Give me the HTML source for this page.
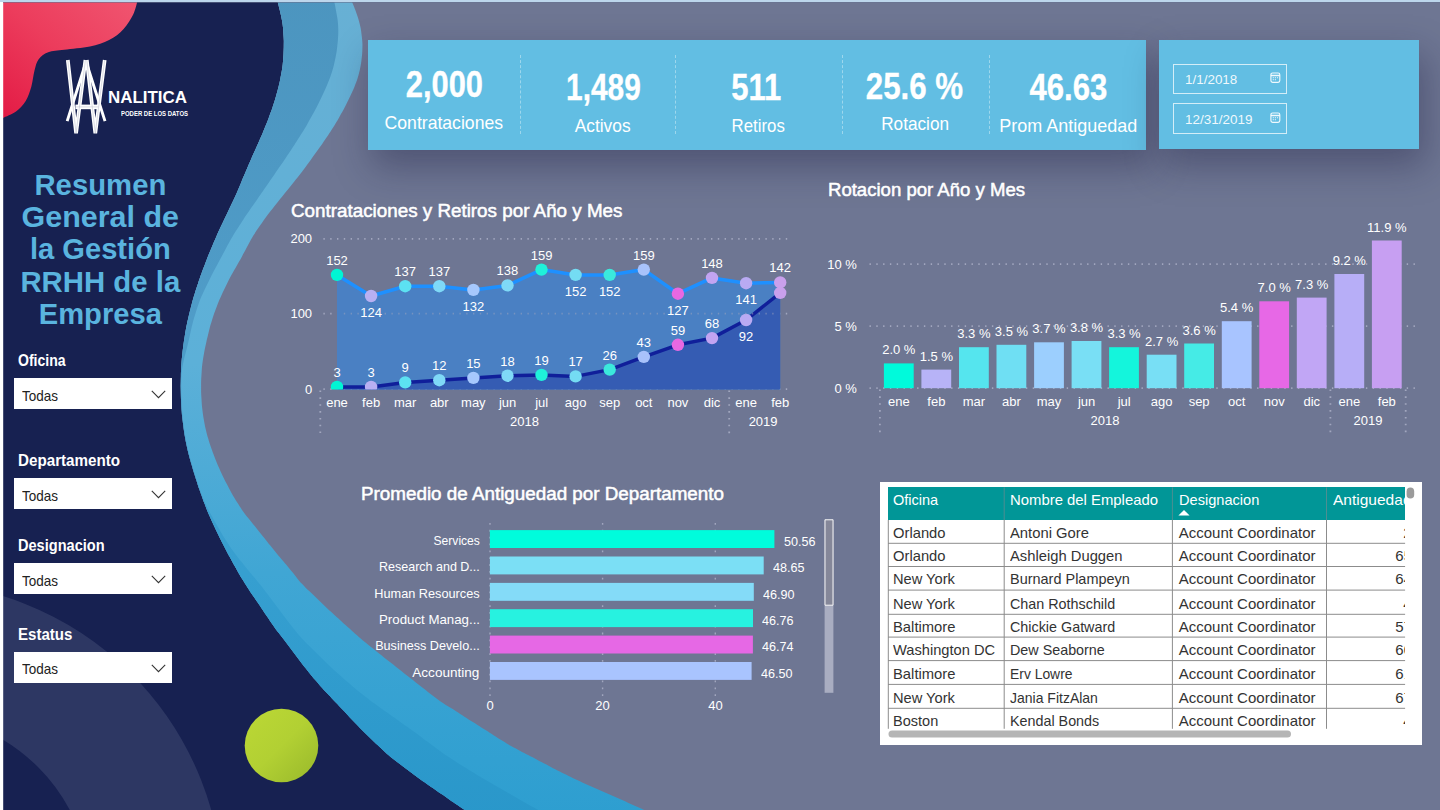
<!DOCTYPE html>
<html lang="es"><head><meta charset="utf-8"><title>Resumen General de la Gestión RRHH</title>
<style>
html,body{margin:0;padding:0}
body{width:1440px;height:810px;overflow:hidden;position:relative;background:#6e7693;font-family:"Liberation Sans",sans-serif}
.t{position:absolute;white-space:nowrap;line-height:1;display:block}
svg{position:absolute;left:0;top:0;overflow:visible}
.card{position:absolute;background:#62bee3;box-shadow:5px 16px 34px 1px rgba(25,25,60,.36)}
.sl{position:absolute;left:14.2px;width:157.8px;height:30.9px;background:#fff}
.dv{position:absolute;top:55px;height:79px;width:0;border-left:1px dashed rgba(255,255,255,.38)}
.di{position:absolute;left:1173px;width:114px;height:30.7px;box-sizing:border-box;border:1px solid rgba(255,255,255,.72)}
</style></head><body>
<svg width="1440" height="810" viewBox="0 0 1440 810">
<defs>
<linearGradient id="gb" x1="0" y1="0" x2="0" y2="1"><stop offset="0" stop-color="#68b0d4"/><stop offset=".45" stop-color="#5cb0d8"/><stop offset=".7" stop-color="#40a6d4"/><stop offset="1" stop-color="#2d9ed0"/></linearGradient>
<linearGradient id="gm" x1="0" y1="0" x2="0" y2="1"><stop offset="0" stop-color="#4c95bf"/><stop offset=".4" stop-color="#4f9cc8"/><stop offset=".7" stop-color="#369fd0"/><stop offset="1" stop-color="#2997ca"/></linearGradient>
<linearGradient id="gr" x1="1" y1="0" x2="0" y2="1"><stop offset="0" stop-color="#f05570"/><stop offset=".5" stop-color="#ec3c5c"/><stop offset="1" stop-color="#e31b45"/></linearGradient>
<linearGradient id="gg" x1="0" y1="0" x2="1" y2="1"><stop offset="0" stop-color="#bcd835"/><stop offset=".5" stop-color="#b2d033"/><stop offset="1" stop-color="#98b82b"/></linearGradient>
<clipPath id="cn"><path d="M3,-6L273.8,-14.0C274.0,-13.2 274.6,-10.7 275.0,-9.1C275.4,-7.5 275.8,-5.9 276.2,-4.3C276.6,-2.7 277.0,-1.0 277.4,0.6C277.8,2.2 278.2,3.8 278.6,5.4C279.0,7.0 279.4,8.7 279.8,10.3C280.2,11.9 280.5,13.5 280.9,15.1C281.2,16.7 281.6,18.4 281.9,20.0C282.2,21.6 282.5,23.2 282.7,24.9C282.9,26.5 283.1,28.2 283.2,29.9C283.3,31.6 283.4,33.2 283.5,34.9C283.6,36.6 283.8,38.2 283.8,39.9C283.9,41.5 283.8,43.1 283.8,44.8C283.8,46.4 283.8,48.1 283.7,49.8C283.6,51.5 283.6,53.1 283.5,54.8C283.4,56.5 283.2,58.1 283.1,59.8C283.0,61.5 282.9,63.1 282.7,64.8C282.5,66.5 282.3,68.1 282.0,69.7C281.7,71.3 281.4,73.0 281.1,74.6C280.8,76.2 280.5,77.9 280.2,79.5C279.9,81.1 279.5,82.8 279.1,84.4C278.7,86.0 278.3,87.7 277.9,89.3C277.5,90.9 277.1,92.5 276.6,94.1C276.2,95.7 275.7,97.3 275.2,98.9C274.7,100.5 274.2,102.1 273.7,103.7C273.2,105.3 272.7,106.8 272.2,108.4C271.7,110.0 271.1,111.5 270.5,113.1C269.9,114.7 269.4,116.2 268.8,117.8C268.2,119.4 267.6,121.0 267.0,122.5C266.4,124.0 265.7,125.6 265.1,127.1C264.5,128.6 263.8,130.2 263.2,131.7C262.6,133.2 262.0,134.8 261.3,136.3C260.6,137.8 259.9,139.4 259.2,140.9C258.5,142.4 257.9,144.0 257.2,145.5C256.5,147.0 255.9,148.5 255.2,150.0C254.5,151.5 253.8,153.1 253.1,154.6C252.4,156.1 251.8,157.7 251.1,159.2C250.4,160.7 249.8,162.3 249.1,163.8C248.4,165.3 247.8,166.9 247.1,168.4C246.4,169.9 245.8,171.5 245.2,173.0C244.5,174.5 243.8,176.1 243.2,177.6C242.5,179.1 241.9,180.7 241.3,182.2C240.7,183.7 240.1,185.3 239.4,186.8C238.8,188.3 238.1,189.9 237.4,191.4C236.7,192.9 236.1,194.4 235.4,195.9C234.7,197.4 234.0,199.0 233.3,200.5C232.6,202.0 231.8,203.5 231.1,205.0C230.4,206.5 229.7,208.0 229.0,209.5C228.3,211.0 227.6,212.5 226.9,214.0C226.2,215.5 225.4,217.1 224.7,218.6C224.0,220.1 223.3,221.6 222.6,223.1C221.9,224.6 221.1,226.1 220.4,227.6C219.7,229.1 219.0,230.6 218.3,232.1C217.6,233.6 217.0,235.2 216.3,236.7C215.6,238.2 215.0,239.8 214.3,241.3C213.6,242.8 213.0,244.4 212.3,245.9C211.7,247.4 211.0,249.0 210.4,250.5C209.8,252.0 209.1,253.5 208.5,255.1C207.9,256.6 207.3,258.2 206.7,259.8C206.1,261.4 205.5,262.8 204.9,264.4C204.3,265.9 203.7,267.5 203.1,269.1C202.5,270.7 202.0,272.2 201.4,273.8C200.8,275.4 200.2,276.9 199.7,278.5C199.1,280.1 198.6,281.6 198.1,283.2C197.6,284.8 197.0,286.4 196.5,288.0C196.0,289.6 195.5,291.1 195.0,292.7C194.5,294.3 194.0,295.9 193.5,297.5C193.0,299.1 192.6,300.7 192.2,302.3C191.8,303.9 191.3,305.6 190.9,307.2C190.5,308.8 190.1,310.4 189.7,312.0C189.3,313.6 188.9,315.3 188.5,316.9C188.1,318.5 187.8,320.1 187.4,321.7C187.1,323.3 186.7,325.0 186.4,326.6C186.1,328.2 185.8,330.0 185.5,331.6C185.2,333.2 185.0,334.9 184.7,336.5C184.4,338.1 184.2,339.8 183.9,341.4C183.7,343.0 183.4,344.8 183.2,346.4C183.0,348.0 182.8,349.6 182.6,351.3C182.4,353.0 182.3,354.6 182.1,356.3C181.9,358.0 181.7,359.6 181.6,361.3C181.5,363.0 181.4,364.6 181.3,366.3C181.2,368.0 181.1,369.7 181.0,371.3C180.9,372.9 180.9,374.6 180.9,376.2C180.9,377.8 180.8,379.5 180.8,381.2C180.8,382.9 180.7,384.5 180.7,386.2C180.7,387.9 180.8,389.5 180.8,391.2C180.8,392.9 180.9,394.5 180.9,396.2C180.9,397.9 181.0,399.5 181.1,401.2C181.2,402.9 181.2,404.5 181.3,406.2C181.4,407.9 181.6,409.5 181.7,411.2C181.8,412.9 181.9,414.5 182.1,416.2C182.3,417.9 182.5,419.5 182.7,421.1C182.9,422.8 183.1,424.4 183.3,426.1C183.5,427.8 183.8,429.5 184.0,431.1C184.2,432.8 184.5,434.4 184.8,436.0C185.1,437.6 185.4,439.3 185.7,440.9C186.0,442.5 186.3,444.2 186.7,445.8C187.0,447.4 187.4,449.1 187.8,450.7C188.2,452.3 188.6,453.9 189.0,455.5C189.4,457.1 189.9,458.7 190.3,460.3C190.8,461.9 191.2,463.5 191.7,465.1C192.2,466.7 192.6,468.3 193.1,469.9C193.6,471.5 194.1,473.1 194.6,474.7C195.1,476.3 195.6,477.9 196.1,479.5C196.6,481.1 197.1,482.6 197.6,484.2C198.1,485.8 198.6,487.4 199.2,489.0C199.8,490.6 200.3,492.1 200.9,493.7C201.5,495.3 202.0,496.8 202.6,498.4C203.2,500.0 203.7,501.6 204.3,503.1C204.9,504.7 205.5,506.1 206.1,507.7C206.7,509.2 207.3,510.8 208.0,512.4C208.7,513.9 209.3,515.5 210.0,517.0C210.7,518.5 211.3,520.0 212.0,521.5C212.7,523.0 213.4,524.6 214.1,526.1C214.8,527.6 215.5,529.1 216.2,530.6C216.9,532.1 217.7,533.6 218.4,535.1C219.1,536.6 219.8,538.1 220.6,539.6C221.3,541.1 222.1,542.5 222.9,544.0C223.7,545.5 224.4,547.0 225.2,548.5C226.0,550.0 226.7,551.4 227.5,552.9C228.3,554.4 229.1,555.8 229.9,557.3C230.7,558.8 231.5,560.2 232.3,561.7C233.1,563.2 233.9,564.5 234.7,566.0C235.5,567.5 236.4,568.9 237.2,570.4C238.0,571.9 238.8,573.3 239.6,574.8C240.4,576.2 241.3,577.7 242.2,579.1C243.1,580.5 243.9,581.9 244.8,583.3C245.7,584.7 246.6,586.1 247.5,587.5C248.4,588.9 249.3,590.3 250.2,591.7C251.1,593.1 252.1,594.4 253.0,595.8C253.9,597.2 255.0,598.6 255.9,600.0C256.9,601.4 257.8,602.7 258.7,604.1C259.6,605.5 260.6,606.8 261.5,608.2C262.4,609.6 263.4,611.0 264.3,612.4C265.2,613.8 266.2,615.1 267.1,616.5C268.0,617.9 269.0,619.3 269.9,620.7C270.8,622.1 271.8,623.4 272.7,624.8C273.6,626.2 274.6,627.6 275.6,628.9C276.6,630.2 277.6,631.5 278.6,632.8C279.6,634.1 280.7,635.5 281.7,636.8C282.7,638.1 283.8,639.4 284.8,640.7C285.8,642.0 286.8,643.4 287.8,644.7C288.8,646.0 289.8,647.4 290.8,648.7C291.8,650.0 292.8,651.4 293.8,652.7C294.8,654.0 295.8,655.4 296.8,656.7C297.8,658.0 298.8,659.4 299.8,660.7C300.8,662.0 301.8,663.4 302.8,664.7C303.8,666.0 304.9,667.3 305.9,668.6C306.9,669.9 307.9,671.2 309.0,672.5C310.1,673.8 311.1,675.1 312.2,676.4C313.3,677.7 314.4,679.0 315.5,680.2C316.6,681.5 317.6,682.6 318.7,683.9C319.8,685.1 320.9,686.5 322.0,687.7C323.1,689.0 324.3,690.2 325.4,691.4C326.5,692.6 327.7,693.9 328.8,695.1C329.9,696.3 331.1,697.5 332.2,698.7C333.3,699.9 334.5,701.1 335.6,702.3C336.8,703.5 338.0,704.8 339.1,706.0C340.2,707.2 341.4,708.4 342.5,709.6C343.6,710.8 344.9,712.0 346.0,713.2C347.1,714.4 348.3,715.7 349.4,716.9C350.5,718.1 351.7,719.3 352.8,720.5C353.9,721.7 355.1,722.9 356.2,724.1C357.3,725.3 358.5,726.5 359.7,727.7C360.9,728.9 362.0,730.1 363.2,731.3C364.4,732.5 365.6,733.6 366.8,734.8C368.0,736.0 369.2,737.1 370.4,738.3C371.6,739.4 372.8,740.6 374.0,741.7C375.2,742.8 376.4,744.0 377.6,745.1C378.8,746.2 380.1,747.5 381.3,748.6C382.5,749.7 383.8,750.8 385.0,751.9C386.2,753.0 387.4,754.1 388.7,755.2C390.0,756.3 391.3,757.4 392.6,758.4C393.9,759.4 395.2,760.5 396.5,761.5C397.8,762.5 399.2,763.5 400.5,764.5C401.8,765.5 403.1,766.6 404.4,767.6C405.7,768.6 407.1,769.6 408.4,770.6C409.7,771.6 411.1,772.6 412.4,773.6C413.7,774.6 415.0,775.6 416.4,776.6C417.8,777.6 419.1,778.5 420.5,779.5C421.9,780.5 423.2,781.3 424.6,782.3C426.0,783.2 427.3,784.2 428.7,785.2C430.1,786.2 431.5,787.0 432.9,788.0C434.3,789.0 435.6,789.9 437.0,790.9C438.4,791.9 439.7,792.8 441.1,793.7C442.5,794.6 443.8,795.5 445.2,796.5C446.6,797.5 447.9,798.4 449.3,799.4C450.7,800.4 452.0,801.2 453.4,802.2C454.8,803.2 456.1,804.2 457.5,805.1C458.9,806.0 460.3,807.0 461.7,807.9C463.1,808.8 464.4,809.8 465.8,810.7C467.2,811.7 468.5,812.7 469.9,813.6C471.3,814.5 472.6,815.5 474.0,816.4C475.4,817.3 476.7,818.3 478.1,819.3C479.5,820.2 481.1,821.4 482.2,822.1C483.3,822.9 484.3,823.5 484.7,823.8L3,821Z"/></clipPath>
</defs>
<path d="M3,-6L273.8,-14.0C274.0,-13.2 274.6,-10.7 275.0,-9.1C275.4,-7.5 275.8,-5.9 276.2,-4.3C276.6,-2.7 277.0,-1.0 277.4,0.6C277.8,2.2 278.2,3.8 278.6,5.4C279.0,7.0 279.4,8.7 279.8,10.3C280.2,11.9 280.5,13.5 280.9,15.1C281.2,16.7 281.6,18.4 281.9,20.0C282.2,21.6 282.5,23.2 282.7,24.9C282.9,26.5 283.1,28.2 283.2,29.9C283.3,31.6 283.4,33.2 283.5,34.9C283.6,36.6 283.8,38.2 283.8,39.9C283.9,41.5 283.8,43.1 283.8,44.8C283.8,46.4 283.8,48.1 283.7,49.8C283.6,51.5 283.6,53.1 283.5,54.8C283.4,56.5 283.2,58.1 283.1,59.8C283.0,61.5 282.9,63.1 282.7,64.8C282.5,66.5 282.3,68.1 282.0,69.7C281.7,71.3 281.4,73.0 281.1,74.6C280.8,76.2 280.5,77.9 280.2,79.5C279.9,81.1 279.5,82.8 279.1,84.4C278.7,86.0 278.3,87.7 277.9,89.3C277.5,90.9 277.1,92.5 276.6,94.1C276.2,95.7 275.7,97.3 275.2,98.9C274.7,100.5 274.2,102.1 273.7,103.7C273.2,105.3 272.7,106.8 272.2,108.4C271.7,110.0 271.1,111.5 270.5,113.1C269.9,114.7 269.4,116.2 268.8,117.8C268.2,119.4 267.6,121.0 267.0,122.5C266.4,124.0 265.7,125.6 265.1,127.1C264.5,128.6 263.8,130.2 263.2,131.7C262.6,133.2 262.0,134.8 261.3,136.3C260.6,137.8 259.9,139.4 259.2,140.9C258.5,142.4 257.9,144.0 257.2,145.5C256.5,147.0 255.9,148.5 255.2,150.0C254.5,151.5 253.8,153.1 253.1,154.6C252.4,156.1 251.8,157.7 251.1,159.2C250.4,160.7 249.8,162.3 249.1,163.8C248.4,165.3 247.8,166.9 247.1,168.4C246.4,169.9 245.8,171.5 245.2,173.0C244.5,174.5 243.8,176.1 243.2,177.6C242.5,179.1 241.9,180.7 241.3,182.2C240.7,183.7 240.1,185.3 239.4,186.8C238.8,188.3 238.1,189.9 237.4,191.4C236.7,192.9 236.1,194.4 235.4,195.9C234.7,197.4 234.0,199.0 233.3,200.5C232.6,202.0 231.8,203.5 231.1,205.0C230.4,206.5 229.7,208.0 229.0,209.5C228.3,211.0 227.6,212.5 226.9,214.0C226.2,215.5 225.4,217.1 224.7,218.6C224.0,220.1 223.3,221.6 222.6,223.1C221.9,224.6 221.1,226.1 220.4,227.6C219.7,229.1 219.0,230.6 218.3,232.1C217.6,233.6 217.0,235.2 216.3,236.7C215.6,238.2 215.0,239.8 214.3,241.3C213.6,242.8 213.0,244.4 212.3,245.9C211.7,247.4 211.0,249.0 210.4,250.5C209.8,252.0 209.1,253.5 208.5,255.1C207.9,256.6 207.3,258.2 206.7,259.8C206.1,261.4 205.5,262.8 204.9,264.4C204.3,265.9 203.7,267.5 203.1,269.1C202.5,270.7 202.0,272.2 201.4,273.8C200.8,275.4 200.2,276.9 199.7,278.5C199.1,280.1 198.6,281.6 198.1,283.2C197.6,284.8 197.0,286.4 196.5,288.0C196.0,289.6 195.5,291.1 195.0,292.7C194.5,294.3 194.0,295.9 193.5,297.5C193.0,299.1 192.6,300.7 192.2,302.3C191.8,303.9 191.3,305.6 190.9,307.2C190.5,308.8 190.1,310.4 189.7,312.0C189.3,313.6 188.9,315.3 188.5,316.9C188.1,318.5 187.8,320.1 187.4,321.7C187.1,323.3 186.7,325.0 186.4,326.6C186.1,328.2 185.8,330.0 185.5,331.6C185.2,333.2 185.0,334.9 184.7,336.5C184.4,338.1 184.2,339.8 183.9,341.4C183.7,343.0 183.4,344.8 183.2,346.4C183.0,348.0 182.8,349.6 182.6,351.3C182.4,353.0 182.3,354.6 182.1,356.3C181.9,358.0 181.7,359.6 181.6,361.3C181.5,363.0 181.4,364.6 181.3,366.3C181.2,368.0 181.1,369.7 181.0,371.3C180.9,372.9 180.9,374.6 180.9,376.2C180.9,377.8 180.8,379.5 180.8,381.2C180.8,382.9 180.7,384.5 180.7,386.2C180.7,387.9 180.8,389.5 180.8,391.2C180.8,392.9 180.9,394.5 180.9,396.2C180.9,397.9 181.0,399.5 181.1,401.2C181.2,402.9 181.2,404.5 181.3,406.2C181.4,407.9 181.6,409.5 181.7,411.2C181.8,412.9 181.9,414.5 182.1,416.2C182.3,417.9 182.5,419.5 182.7,421.1C182.9,422.8 183.1,424.4 183.3,426.1C183.5,427.8 183.8,429.5 184.0,431.1C184.2,432.8 184.5,434.4 184.8,436.0C185.1,437.6 185.4,439.3 185.7,440.9C186.0,442.5 186.3,444.2 186.7,445.8C187.0,447.4 187.4,449.1 187.8,450.7C188.2,452.3 188.6,453.9 189.0,455.5C189.4,457.1 189.9,458.7 190.3,460.3C190.8,461.9 191.2,463.5 191.7,465.1C192.2,466.7 192.6,468.3 193.1,469.9C193.6,471.5 194.1,473.1 194.6,474.7C195.1,476.3 195.6,477.9 196.1,479.5C196.6,481.1 197.1,482.6 197.6,484.2C198.1,485.8 198.6,487.4 199.2,489.0C199.8,490.6 200.3,492.1 200.9,493.7C201.5,495.3 202.0,496.8 202.6,498.4C203.2,500.0 203.7,501.6 204.3,503.1C204.9,504.7 205.5,506.1 206.1,507.7C206.7,509.2 207.3,510.8 208.0,512.4C208.7,513.9 209.3,515.5 210.0,517.0C210.7,518.5 211.3,520.0 212.0,521.5C212.7,523.0 213.4,524.6 214.1,526.1C214.8,527.6 215.5,529.1 216.2,530.6C216.9,532.1 217.7,533.6 218.4,535.1C219.1,536.6 219.8,538.1 220.6,539.6C221.3,541.1 222.1,542.5 222.9,544.0C223.7,545.5 224.4,547.0 225.2,548.5C226.0,550.0 226.7,551.4 227.5,552.9C228.3,554.4 229.1,555.8 229.9,557.3C230.7,558.8 231.5,560.2 232.3,561.7C233.1,563.2 233.9,564.5 234.7,566.0C235.5,567.5 236.4,568.9 237.2,570.4C238.0,571.9 238.8,573.3 239.6,574.8C240.4,576.2 241.3,577.7 242.2,579.1C243.1,580.5 243.9,581.9 244.8,583.3C245.7,584.7 246.6,586.1 247.5,587.5C248.4,588.9 249.3,590.3 250.2,591.7C251.1,593.1 252.1,594.4 253.0,595.8C253.9,597.2 255.0,598.6 255.9,600.0C256.9,601.4 257.8,602.7 258.7,604.1C259.6,605.5 260.6,606.8 261.5,608.2C262.4,609.6 263.4,611.0 264.3,612.4C265.2,613.8 266.2,615.1 267.1,616.5C268.0,617.9 269.0,619.3 269.9,620.7C270.8,622.1 271.8,623.4 272.7,624.8C273.6,626.2 274.6,627.6 275.6,628.9C276.6,630.2 277.6,631.5 278.6,632.8C279.6,634.1 280.7,635.5 281.7,636.8C282.7,638.1 283.8,639.4 284.8,640.7C285.8,642.0 286.8,643.4 287.8,644.7C288.8,646.0 289.8,647.4 290.8,648.7C291.8,650.0 292.8,651.4 293.8,652.7C294.8,654.0 295.8,655.4 296.8,656.7C297.8,658.0 298.8,659.4 299.8,660.7C300.8,662.0 301.8,663.4 302.8,664.7C303.8,666.0 304.9,667.3 305.9,668.6C306.9,669.9 307.9,671.2 309.0,672.5C310.1,673.8 311.1,675.1 312.2,676.4C313.3,677.7 314.4,679.0 315.5,680.2C316.6,681.5 317.6,682.6 318.7,683.9C319.8,685.1 320.9,686.5 322.0,687.7C323.1,689.0 324.3,690.2 325.4,691.4C326.5,692.6 327.7,693.9 328.8,695.1C329.9,696.3 331.1,697.5 332.2,698.7C333.3,699.9 334.5,701.1 335.6,702.3C336.8,703.5 338.0,704.8 339.1,706.0C340.2,707.2 341.4,708.4 342.5,709.6C343.6,710.8 344.9,712.0 346.0,713.2C347.1,714.4 348.3,715.7 349.4,716.9C350.5,718.1 351.7,719.3 352.8,720.5C353.9,721.7 355.1,722.9 356.2,724.1C357.3,725.3 358.5,726.5 359.7,727.7C360.9,728.9 362.0,730.1 363.2,731.3C364.4,732.5 365.6,733.6 366.8,734.8C368.0,736.0 369.2,737.1 370.4,738.3C371.6,739.4 372.8,740.6 374.0,741.7C375.2,742.8 376.4,744.0 377.6,745.1C378.8,746.2 380.1,747.5 381.3,748.6C382.5,749.7 383.8,750.8 385.0,751.9C386.2,753.0 387.4,754.1 388.7,755.2C390.0,756.3 391.3,757.4 392.6,758.4C393.9,759.4 395.2,760.5 396.5,761.5C397.8,762.5 399.2,763.5 400.5,764.5C401.8,765.5 403.1,766.6 404.4,767.6C405.7,768.6 407.1,769.6 408.4,770.6C409.7,771.6 411.1,772.6 412.4,773.6C413.7,774.6 415.0,775.6 416.4,776.6C417.8,777.6 419.1,778.5 420.5,779.5C421.9,780.5 423.2,781.3 424.6,782.3C426.0,783.2 427.3,784.2 428.7,785.2C430.1,786.2 431.5,787.0 432.9,788.0C434.3,789.0 435.6,789.9 437.0,790.9C438.4,791.9 439.7,792.8 441.1,793.7C442.5,794.6 443.8,795.5 445.2,796.5C446.6,797.5 447.9,798.4 449.3,799.4C450.7,800.4 452.0,801.2 453.4,802.2C454.8,803.2 456.1,804.2 457.5,805.1C458.9,806.0 460.3,807.0 461.7,807.9C463.1,808.8 464.4,809.8 465.8,810.7C467.2,811.7 468.5,812.7 469.9,813.6C471.3,814.5 472.6,815.5 474.0,816.4C475.4,817.3 476.7,818.3 478.1,819.3C479.5,820.2 481.1,821.4 482.2,822.1C483.3,822.9 484.3,823.5 484.7,823.8L3,821Z" fill="#172151"/>
<g clip-path="url(#cn)"><circle cx="-90" cy="895" r="247" fill="none" stroke="#2d3763" stroke-width="132"/></g>
<path d="M273.8,-14.0C274.0,-13.2 274.6,-10.7 275.0,-9.1C275.4,-7.5 275.8,-5.9 276.2,-4.3C276.6,-2.7 277.0,-1.0 277.4,0.6C277.8,2.2 278.2,3.8 278.6,5.4C279.0,7.0 279.4,8.7 279.8,10.3C280.2,11.9 280.5,13.5 280.9,15.1C281.2,16.7 281.6,18.4 281.9,20.0C282.2,21.6 282.5,23.2 282.7,24.9C282.9,26.5 283.1,28.2 283.2,29.9C283.3,31.6 283.4,33.2 283.5,34.9C283.6,36.6 283.8,38.2 283.8,39.9C283.9,41.5 283.8,43.1 283.8,44.8C283.8,46.4 283.8,48.1 283.7,49.8C283.6,51.5 283.6,53.1 283.5,54.8C283.4,56.5 283.2,58.1 283.1,59.8C283.0,61.5 282.9,63.1 282.7,64.8C282.5,66.5 282.3,68.1 282.0,69.7C281.7,71.3 281.4,73.0 281.1,74.6C280.8,76.2 280.5,77.9 280.2,79.5C279.9,81.1 279.5,82.8 279.1,84.4C278.7,86.0 278.3,87.7 277.9,89.3C277.5,90.9 277.1,92.5 276.6,94.1C276.2,95.7 275.7,97.3 275.2,98.9C274.7,100.5 274.2,102.1 273.7,103.7C273.2,105.3 272.7,106.8 272.2,108.4C271.7,110.0 271.1,111.5 270.5,113.1C269.9,114.7 269.4,116.2 268.8,117.8C268.2,119.4 267.6,121.0 267.0,122.5C266.4,124.0 265.7,125.6 265.1,127.1C264.5,128.6 263.8,130.2 263.2,131.7C262.6,133.2 262.0,134.8 261.3,136.3C260.6,137.8 259.9,139.4 259.2,140.9C258.5,142.4 257.9,144.0 257.2,145.5C256.5,147.0 255.9,148.5 255.2,150.0C254.5,151.5 253.8,153.1 253.1,154.6C252.4,156.1 251.8,157.7 251.1,159.2C250.4,160.7 249.8,162.3 249.1,163.8C248.4,165.3 247.8,166.9 247.1,168.4C246.4,169.9 245.8,171.5 245.2,173.0C244.5,174.5 243.8,176.1 243.2,177.6C242.5,179.1 241.9,180.7 241.3,182.2C240.7,183.7 240.1,185.3 239.4,186.8C238.8,188.3 238.1,189.9 237.4,191.4C236.7,192.9 236.1,194.4 235.4,195.9C234.7,197.4 234.0,199.0 233.3,200.5C232.6,202.0 231.8,203.5 231.1,205.0C230.4,206.5 229.7,208.0 229.0,209.5C228.3,211.0 227.6,212.5 226.9,214.0C226.2,215.5 225.4,217.1 224.7,218.6C224.0,220.1 223.3,221.6 222.6,223.1C221.9,224.6 221.1,226.1 220.4,227.6C219.7,229.1 219.0,230.6 218.3,232.1C217.6,233.6 217.0,235.2 216.3,236.7C215.6,238.2 215.0,239.8 214.3,241.3C213.6,242.8 213.0,244.4 212.3,245.9C211.7,247.4 211.0,249.0 210.4,250.5C209.8,252.0 209.1,253.5 208.5,255.1C207.9,256.6 207.3,258.2 206.7,259.8C206.1,261.4 205.5,262.8 204.9,264.4C204.3,265.9 203.7,267.5 203.1,269.1C202.5,270.7 202.0,272.2 201.4,273.8C200.8,275.4 200.2,276.9 199.7,278.5C199.1,280.1 198.6,281.6 198.1,283.2C197.6,284.8 197.0,286.4 196.5,288.0C196.0,289.6 195.5,291.1 195.0,292.7C194.5,294.3 194.0,295.9 193.5,297.5C193.0,299.1 192.6,300.7 192.2,302.3C191.8,303.9 191.3,305.6 190.9,307.2C190.5,308.8 190.1,310.4 189.7,312.0C189.3,313.6 188.9,315.3 188.5,316.9C188.1,318.5 187.8,320.1 187.4,321.7C187.1,323.3 186.7,325.0 186.4,326.6C186.1,328.2 185.8,330.0 185.5,331.6C185.2,333.2 185.0,334.9 184.7,336.5C184.4,338.1 184.2,339.8 183.9,341.4C183.7,343.0 183.4,344.8 183.2,346.4C183.0,348.0 182.8,349.6 182.6,351.3C182.4,353.0 182.3,354.6 182.1,356.3C181.9,358.0 181.7,359.6 181.6,361.3C181.5,363.0 181.4,364.6 181.3,366.3C181.2,368.0 181.1,369.7 181.0,371.3C180.9,372.9 180.9,374.6 180.9,376.2C180.9,377.8 180.8,379.5 180.8,381.2C180.8,382.9 180.7,384.5 180.7,386.2C180.7,387.9 180.8,389.5 180.8,391.2C180.8,392.9 180.9,394.5 180.9,396.2C180.9,397.9 181.0,399.5 181.1,401.2C181.2,402.9 181.2,404.5 181.3,406.2C181.4,407.9 181.6,409.5 181.7,411.2C181.8,412.9 181.9,414.5 182.1,416.2C182.3,417.9 182.5,419.5 182.7,421.1C182.9,422.8 183.1,424.4 183.3,426.1C183.5,427.8 183.8,429.5 184.0,431.1C184.2,432.8 184.5,434.4 184.8,436.0C185.1,437.6 185.4,439.3 185.7,440.9C186.0,442.5 186.3,444.2 186.7,445.8C187.0,447.4 187.4,449.1 187.8,450.7C188.2,452.3 188.6,453.9 189.0,455.5C189.4,457.1 189.9,458.7 190.3,460.3C190.8,461.9 191.2,463.5 191.7,465.1C192.2,466.7 192.6,468.3 193.1,469.9C193.6,471.5 194.1,473.1 194.6,474.7C195.1,476.3 195.6,477.9 196.1,479.5C196.6,481.1 197.1,482.6 197.6,484.2C198.1,485.8 198.6,487.4 199.2,489.0C199.8,490.6 200.3,492.1 200.9,493.7C201.5,495.3 202.0,496.8 202.6,498.4C203.2,500.0 203.7,501.6 204.3,503.1C204.9,504.7 205.5,506.1 206.1,507.7C206.7,509.2 207.3,510.8 208.0,512.4C208.7,513.9 209.3,515.5 210.0,517.0C210.7,518.5 211.3,520.0 212.0,521.5C212.7,523.0 213.4,524.6 214.1,526.1C214.8,527.6 215.5,529.1 216.2,530.6C216.9,532.1 217.7,533.6 218.4,535.1C219.1,536.6 219.8,538.1 220.6,539.6C221.3,541.1 222.1,542.5 222.9,544.0C223.7,545.5 224.4,547.0 225.2,548.5C226.0,550.0 226.7,551.4 227.5,552.9C228.3,554.4 229.1,555.8 229.9,557.3C230.7,558.8 231.5,560.2 232.3,561.7C233.1,563.2 233.9,564.5 234.7,566.0C235.5,567.5 236.4,568.9 237.2,570.4C238.0,571.9 238.8,573.3 239.6,574.8C240.4,576.2 241.3,577.7 242.2,579.1C243.1,580.5 243.9,581.9 244.8,583.3C245.7,584.7 246.6,586.1 247.5,587.5C248.4,588.9 249.3,590.3 250.2,591.7C251.1,593.1 252.1,594.4 253.0,595.8C253.9,597.2 255.0,598.6 255.9,600.0C256.9,601.4 257.8,602.7 258.7,604.1C259.6,605.5 260.6,606.8 261.5,608.2C262.4,609.6 263.4,611.0 264.3,612.4C265.2,613.8 266.2,615.1 267.1,616.5C268.0,617.9 269.0,619.3 269.9,620.7C270.8,622.1 271.8,623.4 272.7,624.8C273.6,626.2 274.6,627.6 275.6,628.9C276.6,630.2 277.6,631.5 278.6,632.8C279.6,634.1 280.7,635.5 281.7,636.8C282.7,638.1 283.8,639.4 284.8,640.7C285.8,642.0 286.8,643.4 287.8,644.7C288.8,646.0 289.8,647.4 290.8,648.7C291.8,650.0 292.8,651.4 293.8,652.7C294.8,654.0 295.8,655.4 296.8,656.7C297.8,658.0 298.8,659.4 299.8,660.7C300.8,662.0 301.8,663.4 302.8,664.7C303.8,666.0 304.9,667.3 305.9,668.6C306.9,669.9 307.9,671.2 309.0,672.5C310.1,673.8 311.1,675.1 312.2,676.4C313.3,677.7 314.4,679.0 315.5,680.2C316.6,681.5 317.6,682.6 318.7,683.9C319.8,685.1 320.9,686.5 322.0,687.7C323.1,689.0 324.3,690.2 325.4,691.4C326.5,692.6 327.7,693.9 328.8,695.1C329.9,696.3 331.1,697.5 332.2,698.7C333.3,699.9 334.5,701.1 335.6,702.3C336.8,703.5 338.0,704.8 339.1,706.0C340.2,707.2 341.4,708.4 342.5,709.6C343.6,710.8 344.9,712.0 346.0,713.2C347.1,714.4 348.3,715.7 349.4,716.9C350.5,718.1 351.7,719.3 352.8,720.5C353.9,721.7 355.1,722.9 356.2,724.1C357.3,725.3 358.5,726.5 359.7,727.7C360.9,728.9 362.0,730.1 363.2,731.3C364.4,732.5 365.6,733.6 366.8,734.8C368.0,736.0 369.2,737.1 370.4,738.3C371.6,739.4 372.8,740.6 374.0,741.7C375.2,742.8 376.4,744.0 377.6,745.1C378.8,746.2 380.1,747.5 381.3,748.6C382.5,749.7 383.8,750.8 385.0,751.9C386.2,753.0 387.4,754.1 388.7,755.2C390.0,756.3 391.3,757.4 392.6,758.4C393.9,759.4 395.2,760.5 396.5,761.5C397.8,762.5 399.2,763.5 400.5,764.5C401.8,765.5 403.1,766.6 404.4,767.6C405.7,768.6 407.1,769.6 408.4,770.6C409.7,771.6 411.1,772.6 412.4,773.6C413.7,774.6 415.0,775.6 416.4,776.6C417.8,777.6 419.1,778.5 420.5,779.5C421.9,780.5 423.2,781.3 424.6,782.3C426.0,783.2 427.3,784.2 428.7,785.2C430.1,786.2 431.5,787.0 432.9,788.0C434.3,789.0 435.6,789.9 437.0,790.9C438.4,791.9 439.7,792.8 441.1,793.7C442.5,794.6 443.8,795.5 445.2,796.5C446.6,797.5 447.9,798.4 449.3,799.4C450.7,800.4 452.0,801.2 453.4,802.2C454.8,803.2 456.1,804.2 457.5,805.1C458.9,806.0 460.3,807.0 461.7,807.9C463.1,808.8 464.4,809.8 465.8,810.7C467.2,811.7 468.5,812.7 469.9,813.6C471.3,814.5 472.6,815.5 474.0,816.4C475.4,817.3 476.7,818.3 478.1,819.3C479.5,820.2 481.1,821.4 482.2,822.1C483.3,822.9 484.3,823.5 484.7,823.8L675.4,823.7C675.1,823.6 674.7,823.4 673.6,822.9C672.5,822.4 670.5,821.6 669.0,820.9C667.5,820.2 665.9,819.6 664.4,818.9C662.9,818.2 661.4,817.6 659.9,816.9C658.4,816.2 656.8,815.5 655.3,814.8C653.8,814.1 652.2,813.5 650.7,812.8C649.2,812.1 647.6,811.5 646.1,810.8C644.6,810.1 643.1,809.4 641.6,808.7C640.1,808.0 638.5,807.4 637.0,806.7C635.5,806.0 633.9,805.4 632.4,804.7C630.9,804.0 629.4,803.4 627.9,802.7C626.4,802.0 624.8,801.3 623.3,800.6C621.8,799.9 620.2,799.3 618.7,798.6C617.2,797.9 615.6,797.3 614.1,796.6C612.6,795.9 611.1,795.3 609.6,794.6C608.1,793.9 606.5,793.2 605.0,792.5C603.5,791.8 601.9,791.2 600.4,790.5C598.9,789.8 597.4,789.2 595.9,788.5C594.4,787.8 592.8,787.2 591.3,786.5C589.8,785.8 588.2,785.1 586.7,784.4C585.2,783.7 583.7,783.1 582.2,782.4C580.7,781.7 579.1,781.0 577.6,780.3C576.1,779.6 574.6,778.9 573.1,778.2C571.6,777.5 570.1,776.7 568.6,776.0C567.1,775.3 565.6,774.5 564.1,773.8C562.6,773.0 561.2,772.3 559.7,771.5C558.2,770.7 556.7,770.0 555.2,769.2C553.7,768.4 552.3,767.7 550.8,766.9C549.3,766.1 547.9,765.4 546.4,764.6C544.9,763.8 543.4,763.0 541.9,762.2C540.4,761.4 539.0,760.7 537.5,759.9C536.0,759.1 534.6,758.4 533.1,757.6C531.6,756.8 530.1,756.1 528.6,755.3C527.1,754.5 525.7,753.8 524.2,753.0C522.7,752.2 521.3,751.5 519.8,750.7C518.3,749.9 516.9,749.1 515.4,748.3C513.9,747.5 512.5,746.7 511.0,745.9C509.6,745.1 508.1,744.2 506.7,743.4C505.3,742.5 503.8,741.7 502.4,740.8C501.0,739.9 499.5,739.1 498.1,738.2C496.7,737.3 495.3,736.4 493.9,735.5C492.5,734.6 491.1,733.7 489.7,732.8C488.3,731.9 486.9,731.0 485.5,730.1C484.1,729.2 482.7,728.3 481.3,727.4C479.9,726.5 478.5,725.7 477.1,724.8C475.7,723.9 474.2,723.0 472.8,722.1C471.4,721.2 470.0,720.3 468.6,719.4C467.2,718.5 465.8,717.6 464.4,716.7C463.0,715.8 461.6,714.9 460.2,714.0C458.8,713.1 457.4,712.2 456.0,711.3C454.6,710.4 453.2,709.5 451.8,708.6C450.4,707.7 448.9,706.9 447.5,706.0C446.1,705.1 444.7,704.1 443.3,703.2C441.9,702.3 440.6,701.4 439.2,700.4C437.8,699.4 436.5,698.5 435.2,697.5C433.9,696.5 432.5,695.5 431.2,694.5C429.9,693.5 428.6,692.4 427.3,691.4C426.0,690.4 424.6,689.3 423.3,688.3C422.0,687.3 420.7,686.2 419.4,685.2C418.1,684.2 416.8,683.2 415.5,682.2C414.2,681.2 412.8,680.1 411.5,679.1C410.2,678.1 408.9,677.0 407.6,676.0C406.3,675.0 405.0,673.9 403.7,672.9C402.4,671.9 401.0,670.8 399.7,669.8C398.4,668.8 397.1,667.7 395.8,666.7C394.5,665.7 393.2,664.6 391.9,663.6C390.6,662.6 389.2,661.5 387.9,660.5C386.6,659.5 385.3,658.4 384.0,657.4C382.7,656.4 381.4,655.3 380.1,654.3C378.8,653.3 377.5,652.2 376.2,651.2C374.9,650.2 373.6,649.2 372.3,648.1C371.0,647.0 369.7,646.0 368.4,644.9C367.1,643.8 365.8,642.9 364.5,641.8C363.2,640.7 361.9,639.6 360.7,638.5C359.4,637.4 358.2,636.3 357.0,635.2C355.8,634.1 354.4,633.0 353.2,631.9C351.9,630.8 350.7,629.7 349.5,628.6C348.3,627.5 347.0,626.3 345.8,625.2C344.6,624.1 343.3,623.0 342.1,621.9C340.9,620.8 339.6,619.6 338.4,618.5C337.2,617.4 335.9,616.3 334.7,615.2C333.5,614.1 332.2,612.9 331.0,611.8C329.8,610.7 328.5,609.5 327.3,608.4C326.1,607.2 324.9,606.0 323.7,604.9C322.5,603.8 321.3,602.6 320.1,601.5C318.9,600.4 317.7,599.1 316.5,598.0C315.3,596.9 314.1,595.8 312.9,594.6C311.7,593.5 310.4,592.2 309.2,591.1C308.0,590.0 306.8,588.9 305.6,587.7C304.4,586.5 303.3,585.3 302.2,584.1C301.1,582.9 300.0,581.7 298.9,580.4C297.8,579.1 296.8,577.8 295.8,576.5C294.8,575.2 293.8,573.9 292.7,572.6C291.6,571.3 290.6,570.0 289.5,568.7C288.4,567.4 287.4,566.1 286.3,564.8C285.2,563.5 284.2,562.3 283.1,561.0C282.0,559.7 281.0,558.5 279.9,557.2C278.8,555.9 277.8,554.7 276.7,553.4C275.6,552.1 274.6,550.8 273.5,549.5C272.4,548.2 271.4,546.9 270.3,545.6C269.2,544.3 268.2,543.0 267.2,541.7C266.2,540.4 265.1,539.1 264.1,537.8C263.1,536.5 262.1,535.2 261.0,533.9C259.9,532.6 258.9,531.3 257.8,530.0C256.8,528.7 255.7,527.4 254.7,526.1C253.7,524.8 252.6,523.5 251.6,522.2C250.6,520.9 249.4,519.6 248.4,518.3C247.4,517.0 246.3,515.7 245.3,514.4C244.3,513.1 243.4,511.8 242.4,510.4C241.4,509.0 240.5,507.7 239.6,506.3C238.7,504.9 237.8,503.5 236.9,502.1C236.0,500.7 235.2,499.2 234.3,497.8C233.5,496.4 232.6,494.9 231.8,493.5C231.0,492.1 230.2,490.6 229.4,489.1C228.6,487.6 227.9,486.1 227.1,484.6C226.3,483.1 225.6,481.7 224.8,480.2C224.1,478.7 223.3,477.2 222.6,475.7C221.9,474.2 221.2,472.7 220.5,471.2C219.8,469.7 219.1,468.1 218.4,466.6C217.7,465.1 217.1,463.5 216.5,462.0C215.9,460.5 215.3,458.9 214.7,457.4C214.1,455.8 213.5,454.3 212.9,452.7C212.3,451.1 211.8,449.6 211.2,448.0C210.6,446.4 210.1,444.9 209.6,443.3C209.1,441.7 208.7,440.1 208.2,438.5C207.7,436.9 207.2,435.3 206.8,433.7C206.4,432.1 206.0,430.4 205.6,428.8C205.2,427.2 204.9,425.5 204.6,423.9C204.3,422.3 204.0,420.6 203.7,419.0C203.4,417.4 203.1,415.8 202.9,414.1C202.7,412.5 202.5,410.8 202.3,409.1C202.1,407.5 201.9,405.9 201.8,404.2C201.7,402.5 201.6,400.9 201.5,399.2C201.4,397.5 201.3,395.9 201.2,394.2C201.1,392.5 201.1,390.9 201.1,389.2C201.1,387.5 201.1,385.9 201.1,384.2C201.1,382.5 201.1,380.9 201.2,379.2C201.3,377.5 201.4,375.8 201.5,374.2C201.6,372.6 201.7,370.9 201.8,369.3C201.9,367.7 202.1,366.0 202.3,364.3C202.5,362.6 202.8,361.0 203.0,359.3C203.2,357.6 203.5,356.0 203.8,354.4C204.1,352.8 204.4,351.1 204.7,349.5C205.0,347.9 205.5,346.2 205.8,344.6C206.2,343.0 206.4,341.3 206.8,339.7C207.2,338.1 207.6,336.5 208.0,334.9C208.4,333.3 208.8,331.6 209.2,330.0C209.6,328.4 209.9,326.8 210.4,325.2C210.9,323.6 211.4,322.0 211.9,320.4C212.4,318.8 212.9,317.3 213.4,315.7C213.9,314.1 214.5,312.6 215.1,311.0C215.7,309.4 216.3,307.9 216.9,306.3C217.5,304.7 218.1,303.2 218.7,301.6C219.3,300.1 220.0,298.5 220.7,297.0C221.4,295.5 222.0,294.0 222.7,292.5C223.4,291.0 224.2,289.5 224.9,288.0C225.6,286.5 226.4,285.0 227.1,283.5C227.8,282.0 228.5,280.5 229.3,279.0C230.1,277.5 230.9,276.1 231.7,274.6C232.5,273.2 233.3,271.8 234.1,270.3C234.9,268.9 235.8,267.3 236.6,265.9C237.4,264.4 238.3,263.1 239.1,261.6C239.9,260.2 240.8,258.7 241.6,257.2C242.4,255.7 243.1,254.3 243.9,252.8C244.7,251.3 245.4,249.9 246.2,248.4C247.0,246.9 247.8,245.5 248.6,244.0C249.4,242.5 250.2,241.0 251.0,239.6C251.8,238.2 252.6,236.7 253.5,235.3C254.4,233.9 255.3,232.5 256.2,231.1C257.1,229.7 258.1,228.4 259.0,227.0C259.9,225.6 260.9,224.3 261.9,222.9C262.9,221.5 263.8,220.2 264.8,218.8C265.8,217.5 266.7,216.1 267.7,214.8C268.7,213.5 269.8,212.1 270.8,210.8C271.8,209.5 272.8,208.2 273.8,206.9C274.8,205.6 275.9,204.3 277.0,203.0C278.1,201.7 279.1,200.4 280.1,199.1C281.1,197.8 282.1,196.5 283.2,195.2C284.2,193.9 285.3,192.6 286.4,191.3C287.4,190.0 288.4,188.7 289.5,187.4C290.6,186.1 291.6,184.8 292.7,183.5C293.8,182.2 294.8,180.9 295.8,179.6C296.8,178.3 297.9,177.0 298.9,175.7C299.9,174.4 301.0,173.1 302.0,171.8C303.0,170.5 304.0,169.2 305.0,167.8C306.0,166.5 306.9,165.0 307.9,163.7C308.9,162.3 309.9,161.0 310.9,159.7C311.9,158.3 312.8,156.9 313.8,155.6C314.8,154.2 315.7,152.9 316.7,151.6C317.7,150.2 318.6,148.9 319.6,147.5C320.6,146.1 321.6,144.8 322.5,143.4C323.4,142.0 324.4,140.7 325.3,139.3C326.2,137.9 327.2,136.6 328.1,135.2C329.0,133.8 330.0,132.4 330.9,131.0C331.8,129.6 332.7,128.2 333.6,126.8C334.5,125.4 335.2,123.9 336.1,122.5C337.0,121.1 337.9,119.7 338.7,118.2C339.5,116.8 340.3,115.2 341.1,113.8C341.9,112.3 342.8,111.0 343.6,109.5C344.4,108.0 345.1,106.5 345.9,105.0C346.6,103.5 347.4,102.1 348.1,100.6C348.8,99.1 349.6,97.6 350.3,96.1C351.0,94.6 351.7,93.0 352.4,91.5C353.1,90.0 353.8,88.4 354.4,86.9C355.0,85.4 355.6,83.8 356.2,82.3C356.8,80.8 357.3,79.2 357.8,77.6C358.3,76.0 358.7,74.4 359.1,72.8C359.5,71.2 359.9,69.5 360.2,67.9C360.5,66.3 360.9,64.6 361.1,63.0C361.4,61.4 361.5,59.8 361.7,58.1C361.9,56.5 362.1,54.8 362.2,53.1C362.3,51.4 362.4,49.8 362.4,48.1C362.4,46.5 362.5,44.9 362.4,43.2C362.3,41.6 362.2,39.9 362.0,38.2C361.8,36.6 361.6,34.9 361.4,33.3C361.2,31.6 361.0,29.9 360.7,28.3C360.4,26.7 360.0,25.1 359.6,23.5C359.2,21.9 358.8,20.3 358.3,18.7C357.8,17.1 357.2,15.6 356.7,14.0C356.1,12.4 355.6,10.9 355.0,9.3C354.4,7.7 353.7,6.1 353.1,4.6C352.5,3.0 351.9,1.6 351.3,-0.0C350.7,-1.6 350.1,-3.2 349.5,-4.7C348.9,-6.2 348.3,-7.8 347.7,-9.3C347.1,-10.9 346.2,-13.2 345.9,-14.0Z" fill="url(#gb)"/>
<path d="M273.8,-14.0C274.0,-13.2 274.6,-10.7 275.0,-9.1C275.4,-7.5 275.8,-5.9 276.2,-4.3C276.6,-2.7 277.0,-1.0 277.4,0.6C277.8,2.2 278.2,3.8 278.6,5.4C279.0,7.0 279.4,8.7 279.8,10.3C280.2,11.9 280.5,13.5 280.9,15.1C281.2,16.7 281.6,18.4 281.9,20.0C282.2,21.6 282.5,23.2 282.7,24.9C282.9,26.5 283.1,28.2 283.2,29.9C283.3,31.6 283.4,33.2 283.5,34.9C283.6,36.6 283.8,38.2 283.8,39.9C283.9,41.5 283.8,43.1 283.8,44.8C283.8,46.4 283.8,48.1 283.7,49.8C283.6,51.5 283.6,53.1 283.5,54.8C283.4,56.5 283.2,58.1 283.1,59.8C283.0,61.5 282.9,63.1 282.7,64.8C282.5,66.5 282.3,68.1 282.0,69.7C281.7,71.3 281.4,73.0 281.1,74.6C280.8,76.2 280.5,77.9 280.2,79.5C279.9,81.1 279.5,82.8 279.1,84.4C278.7,86.0 278.3,87.7 277.9,89.3C277.5,90.9 277.1,92.5 276.6,94.1C276.2,95.7 275.7,97.3 275.2,98.9C274.7,100.5 274.2,102.1 273.7,103.7C273.2,105.3 272.7,106.8 272.2,108.4C271.7,110.0 271.1,111.5 270.5,113.1C269.9,114.7 269.4,116.2 268.8,117.8C268.2,119.4 267.6,121.0 267.0,122.5C266.4,124.0 265.7,125.6 265.1,127.1C264.5,128.6 263.8,130.2 263.2,131.7C262.6,133.2 262.0,134.8 261.3,136.3C260.6,137.8 259.9,139.4 259.2,140.9C258.5,142.4 257.9,144.0 257.2,145.5C256.5,147.0 255.9,148.5 255.2,150.0C254.5,151.5 253.8,153.1 253.1,154.6C252.4,156.1 251.8,157.7 251.1,159.2C250.4,160.7 249.8,162.3 249.1,163.8C248.4,165.3 247.8,166.9 247.1,168.4C246.4,169.9 245.8,171.5 245.2,173.0C244.5,174.5 243.8,176.1 243.2,177.6C242.5,179.1 241.9,180.7 241.3,182.2C240.7,183.7 240.1,185.3 239.4,186.8C238.8,188.3 238.1,189.9 237.4,191.4C236.7,192.9 236.1,194.4 235.4,195.9C234.7,197.4 234.0,199.0 233.3,200.5C232.6,202.0 231.8,203.5 231.1,205.0C230.4,206.5 229.7,208.0 229.0,209.5C228.3,211.0 227.6,212.5 226.9,214.0C226.2,215.5 225.4,217.1 224.7,218.6C224.0,220.1 223.3,221.6 222.6,223.1C221.9,224.6 221.1,226.1 220.4,227.6C219.7,229.1 219.0,230.6 218.3,232.1C217.6,233.6 217.0,235.2 216.3,236.7C215.6,238.2 215.0,239.8 214.3,241.3C213.6,242.8 213.0,244.4 212.3,245.9C211.7,247.4 211.0,249.0 210.4,250.5C209.8,252.0 209.1,253.5 208.5,255.1C207.9,256.6 207.3,258.2 206.7,259.8C206.1,261.4 205.5,262.8 204.9,264.4C204.3,265.9 203.7,267.5 203.1,269.1C202.5,270.7 202.0,272.2 201.4,273.8C200.8,275.4 200.2,276.9 199.7,278.5C199.1,280.1 198.6,281.6 198.1,283.2C197.6,284.8 197.0,286.4 196.5,288.0C196.0,289.6 195.5,291.1 195.0,292.7C194.5,294.3 194.0,295.9 193.5,297.5C193.0,299.1 192.6,300.7 192.2,302.3C191.8,303.9 191.3,305.6 190.9,307.2C190.5,308.8 190.1,310.4 189.7,312.0C189.3,313.6 188.9,315.3 188.5,316.9C188.1,318.5 187.8,320.1 187.4,321.7C187.1,323.3 186.7,325.0 186.4,326.6C186.1,328.2 185.8,330.0 185.5,331.6C185.2,333.2 185.0,334.9 184.7,336.5C184.4,338.1 184.2,339.8 183.9,341.4C183.7,343.0 183.4,344.8 183.2,346.4C183.0,348.0 182.8,349.6 182.6,351.3C182.4,353.0 182.3,354.6 182.1,356.3C181.9,358.0 181.7,359.6 181.6,361.3C181.5,363.0 181.4,364.6 181.3,366.3C181.2,368.0 181.1,369.7 181.0,371.3C180.9,372.9 180.9,374.6 180.9,376.2C180.9,377.8 180.8,379.5 180.8,381.2C180.8,382.9 180.7,384.5 180.7,386.2C180.7,387.9 180.8,389.5 180.8,391.2C180.8,392.9 180.9,394.5 180.9,396.2C180.9,397.9 181.0,399.5 181.1,401.2C181.2,402.9 181.2,404.5 181.3,406.2C181.4,407.9 181.6,409.5 181.7,411.2C181.8,412.9 181.9,414.5 182.1,416.2C182.3,417.9 182.5,419.5 182.7,421.1C182.9,422.8 183.1,424.4 183.3,426.1C183.5,427.8 183.8,429.5 184.0,431.1C184.2,432.8 184.5,434.4 184.8,436.0C185.1,437.6 185.4,439.3 185.7,440.9C186.0,442.5 186.3,444.2 186.7,445.8C187.0,447.4 187.4,449.1 187.8,450.7C188.2,452.3 188.6,453.9 189.0,455.5C189.4,457.1 189.9,458.7 190.3,460.3C190.8,461.9 191.2,463.5 191.7,465.1C192.2,466.7 192.6,468.3 193.1,469.9C193.6,471.5 194.1,473.1 194.6,474.7C195.1,476.3 195.6,477.9 196.1,479.5C196.6,481.1 197.1,482.6 197.6,484.2C198.1,485.8 198.6,487.4 199.2,489.0C199.8,490.6 200.3,492.1 200.9,493.7C201.5,495.3 202.0,496.8 202.6,498.4C203.2,500.0 203.7,501.6 204.3,503.1C204.9,504.7 205.5,506.1 206.1,507.7C206.7,509.2 207.3,510.8 208.0,512.4C208.7,513.9 209.3,515.5 210.0,517.0C210.7,518.5 211.3,520.0 212.0,521.5C212.7,523.0 213.4,524.6 214.1,526.1C214.8,527.6 215.5,529.1 216.2,530.6C216.9,532.1 217.7,533.6 218.4,535.1C219.1,536.6 219.8,538.1 220.6,539.6C221.3,541.1 222.1,542.5 222.9,544.0C223.7,545.5 224.4,547.0 225.2,548.5C226.0,550.0 226.7,551.4 227.5,552.9C228.3,554.4 229.1,555.8 229.9,557.3C230.7,558.8 231.5,560.2 232.3,561.7C233.1,563.2 233.9,564.5 234.7,566.0C235.5,567.5 236.4,568.9 237.2,570.4C238.0,571.9 238.8,573.3 239.6,574.8C240.4,576.2 241.3,577.7 242.2,579.1C243.1,580.5 243.9,581.9 244.8,583.3C245.7,584.7 246.6,586.1 247.5,587.5C248.4,588.9 249.3,590.3 250.2,591.7C251.1,593.1 252.1,594.4 253.0,595.8C253.9,597.2 255.0,598.6 255.9,600.0C256.9,601.4 257.8,602.7 258.7,604.1C259.6,605.5 260.6,606.8 261.5,608.2C262.4,609.6 263.4,611.0 264.3,612.4C265.2,613.8 266.2,615.1 267.1,616.5C268.0,617.9 269.0,619.3 269.9,620.7C270.8,622.1 271.8,623.4 272.7,624.8C273.6,626.2 274.6,627.6 275.6,628.9C276.6,630.2 277.6,631.5 278.6,632.8C279.6,634.1 280.7,635.5 281.7,636.8C282.7,638.1 283.8,639.4 284.8,640.7C285.8,642.0 286.8,643.4 287.8,644.7C288.8,646.0 289.8,647.4 290.8,648.7C291.8,650.0 292.8,651.4 293.8,652.7C294.8,654.0 295.8,655.4 296.8,656.7C297.8,658.0 298.8,659.4 299.8,660.7C300.8,662.0 301.8,663.4 302.8,664.7C303.8,666.0 304.9,667.3 305.9,668.6C306.9,669.9 307.9,671.2 309.0,672.5C310.1,673.8 311.1,675.1 312.2,676.4C313.3,677.7 314.4,679.0 315.5,680.2C316.6,681.5 317.6,682.6 318.7,683.9C319.8,685.1 320.9,686.5 322.0,687.7C323.1,689.0 324.3,690.2 325.4,691.4C326.5,692.6 327.7,693.9 328.8,695.1C329.9,696.3 331.1,697.5 332.2,698.7C333.3,699.9 334.5,701.1 335.6,702.3C336.8,703.5 338.0,704.8 339.1,706.0C340.2,707.2 341.4,708.4 342.5,709.6C343.6,710.8 344.9,712.0 346.0,713.2C347.1,714.4 348.3,715.7 349.4,716.9C350.5,718.1 351.7,719.3 352.8,720.5C353.9,721.7 355.1,722.9 356.2,724.1C357.3,725.3 358.5,726.5 359.7,727.7C360.9,728.9 362.0,730.1 363.2,731.3C364.4,732.5 365.6,733.6 366.8,734.8C368.0,736.0 369.2,737.1 370.4,738.3C371.6,739.4 372.8,740.6 374.0,741.7C375.2,742.8 376.4,744.0 377.6,745.1C378.8,746.2 380.1,747.5 381.3,748.6C382.5,749.7 383.8,750.8 385.0,751.9C386.2,753.0 387.4,754.1 388.7,755.2C390.0,756.3 391.3,757.4 392.6,758.4C393.9,759.4 395.2,760.5 396.5,761.5C397.8,762.5 399.2,763.5 400.5,764.5C401.8,765.5 403.1,766.6 404.4,767.6C405.7,768.6 407.1,769.6 408.4,770.6C409.7,771.6 411.1,772.6 412.4,773.6C413.7,774.6 415.0,775.6 416.4,776.6C417.8,777.6 419.1,778.5 420.5,779.5C421.9,780.5 423.2,781.3 424.6,782.3C426.0,783.2 427.3,784.2 428.7,785.2C430.1,786.2 431.5,787.0 432.9,788.0C434.3,789.0 435.6,789.9 437.0,790.9C438.4,791.9 439.7,792.8 441.1,793.7C442.5,794.6 443.8,795.5 445.2,796.5C446.6,797.5 447.9,798.4 449.3,799.4C450.7,800.4 452.0,801.2 453.4,802.2C454.8,803.2 456.1,804.2 457.5,805.1C458.9,806.0 460.3,807.0 461.7,807.9C463.1,808.8 464.4,809.8 465.8,810.7C467.2,811.7 468.5,812.7 469.9,813.6C471.3,814.5 472.6,815.5 474.0,816.4C475.4,817.3 476.7,818.3 478.1,819.3C479.5,820.2 481.1,821.4 482.2,822.1C483.3,822.9 484.3,823.5 484.7,823.8L564.0,824.6C563.3,824.2 561.1,822.9 559.6,822.1C558.1,821.3 556.8,820.4 555.3,819.6C553.8,818.8 552.3,818.0 550.9,817.2C549.5,816.4 548.0,815.5 546.6,814.7C545.2,813.9 543.7,813.0 542.2,812.2C540.8,811.4 539.4,810.6 537.9,809.8C536.4,809.0 535.0,808.1 533.5,807.3C532.0,806.5 530.7,805.7 529.2,804.9C527.8,804.1 526.2,803.2 524.8,802.4C523.3,801.6 521.9,800.7 520.5,799.9C519.1,799.1 517.7,798.2 516.2,797.4C514.8,796.6 513.2,795.7 511.8,794.9C510.4,794.1 508.9,793.2 507.5,792.4C506.1,791.6 504.6,790.7 503.1,789.9C501.7,789.1 500.2,788.3 498.8,787.5C497.4,786.7 495.8,785.8 494.4,785.0C492.9,784.2 491.5,783.3 490.1,782.5C488.7,781.7 487.2,780.8 485.8,780.0C484.4,779.2 482.9,778.4 481.5,777.5C480.1,776.6 478.6,775.8 477.2,774.9C475.8,774.0 474.3,773.2 472.9,772.3C471.5,771.4 470.0,770.6 468.6,769.7C467.2,768.8 465.8,768.0 464.4,767.1C463.0,766.2 461.6,765.3 460.2,764.4C458.8,763.5 457.3,762.6 455.9,761.7C454.5,760.8 453.1,759.9 451.7,759.0C450.3,758.1 449.0,757.2 447.6,756.3C446.2,755.4 444.8,754.4 443.4,753.4C442.0,752.4 440.8,751.5 439.4,750.5C438.0,749.5 436.6,748.6 435.3,747.6C434.0,746.6 432.6,745.6 431.3,744.6C430.0,743.6 428.6,742.6 427.3,741.6C426.0,740.6 424.6,739.7 423.3,738.7C422.0,737.7 420.6,736.6 419.3,735.6C418.0,734.6 416.6,733.6 415.3,732.6C414.0,731.6 412.7,730.7 411.3,729.7C409.9,728.7 408.6,727.7 407.2,726.7C405.8,725.7 404.5,724.9 403.1,723.9C401.7,722.9 400.4,722.0 399.0,721.0C397.6,720.0 396.4,719.1 395.0,718.1C393.6,717.1 392.3,716.2 390.9,715.2C389.5,714.2 388.2,713.3 386.8,712.3C385.4,711.3 384.1,710.4 382.7,709.4C381.3,708.4 380.0,707.5 378.6,706.5C377.2,705.5 376.0,704.6 374.6,703.6C373.2,702.6 371.8,701.7 370.5,700.7C369.2,699.7 367.9,698.6 366.6,697.6C365.3,696.6 364.0,695.5 362.7,694.5C361.4,693.5 360.1,692.4 358.8,691.4C357.5,690.4 356.2,689.3 354.9,688.2C353.6,687.1 352.4,686.0 351.1,684.9C349.8,683.8 348.6,682.8 347.3,681.7C346.0,680.6 344.8,679.5 343.5,678.4C342.2,677.3 341.1,676.2 339.8,675.1C338.6,674.0 337.2,672.9 336.0,671.8C334.8,670.7 333.6,669.5 332.4,668.4C331.2,667.3 329.9,666.1 328.7,665.0C327.5,663.9 326.3,662.7 325.1,661.5C323.9,660.3 322.8,659.2 321.6,658.0C320.4,656.8 319.2,655.7 318.0,654.5C316.8,653.3 315.6,652.2 314.4,651.0C313.2,649.8 312.1,648.7 310.9,647.5C309.7,646.3 308.5,645.2 307.3,644.0C306.1,642.8 305.0,641.6 303.9,640.4C302.8,639.2 301.6,638.0 300.5,636.7C299.4,635.5 298.3,634.2 297.2,632.9C296.1,631.6 295.1,630.4 294.0,629.1C292.9,627.8 291.9,626.4 290.9,625.1C289.9,623.8 288.9,622.5 287.9,621.2C286.9,619.9 285.9,618.5 284.9,617.2C283.9,615.9 282.9,614.5 281.9,613.2C280.9,611.9 279.9,610.5 278.9,609.2C277.9,607.9 276.9,606.5 275.9,605.2C274.9,603.9 273.9,602.5 272.9,601.2C271.9,599.9 270.9,598.5 269.9,597.2C268.9,595.9 267.8,594.5 266.8,593.2C265.8,591.9 264.8,590.5 263.8,589.2C262.8,587.9 261.8,586.5 260.8,585.2C259.8,583.9 258.7,582.7 257.6,581.4C256.5,580.1 255.5,578.9 254.4,577.6C253.3,576.3 252.3,575.0 251.2,573.7C250.1,572.4 249.1,571.2 248.0,569.9C246.9,568.6 245.9,567.3 244.8,566.0C243.8,564.7 242.8,563.4 241.7,562.1C240.6,560.8 239.5,559.5 238.5,558.2C237.5,556.9 236.5,555.6 235.5,554.3C234.5,553.0 233.5,551.6 232.5,550.3C231.5,548.9 230.6,547.6 229.7,546.2C228.8,544.8 227.9,543.4 227.0,542.0C226.1,540.6 225.2,539.1 224.3,537.7C223.4,536.3 222.5,534.8 221.7,533.4C220.8,532.0 220.0,530.5 219.2,529.1C218.4,527.7 217.5,526.2 216.7,524.8C215.9,523.3 215.0,521.8 214.2,520.4C213.4,519.0 212.6,517.6 211.8,516.1C211.0,514.6 210.3,513.2 209.5,511.7C208.7,510.2 207.9,508.7 207.2,507.2C206.4,505.7 205.7,504.2 205.0,502.7C204.3,501.2 203.6,499.6 203.0,498.1C202.4,496.6 201.9,495.1 201.3,493.5C200.7,491.9 200.2,490.3 199.6,488.7C199.0,487.1 198.5,485.6 198.0,484.0C197.5,482.4 196.9,480.9 196.4,479.3C195.9,477.7 195.4,476.1 194.9,474.5C194.4,472.9 194.0,471.3 193.5,469.7C193.0,468.1 192.6,466.5 192.1,464.9C191.6,463.3 191.1,461.7 190.7,460.1C190.2,458.5 189.8,456.9 189.4,455.3C189.0,453.7 188.6,452.0 188.2,450.4C187.8,448.8 187.4,447.1 187.1,445.5C186.8,443.9 186.4,442.2 186.1,440.6C185.8,439.0 185.5,437.3 185.2,435.7C184.9,434.1 184.7,432.4 184.4,430.8C184.2,429.2 183.9,427.5 183.7,425.8C183.5,424.1 183.3,422.5 183.1,420.9C182.9,419.2 182.8,417.6 182.6,415.9C182.4,414.2 182.2,412.6 182.1,410.9C182.0,409.2 181.9,407.6 181.8,405.9C181.7,404.2 181.6,402.5 181.5,400.9C181.4,399.2 181.4,397.6 181.3,396.0C181.2,394.4 181.2,392.7 181.2,391.0C181.2,389.3 181.2,387.7 181.2,386.0C181.2,384.3 181.2,382.7 181.2,381.0C181.2,379.3 181.3,377.7 181.4,376.0C181.5,374.3 181.6,372.6 181.8,371.0C182.0,369.4 182.3,367.7 182.6,366.1C182.9,364.5 183.2,362.8 183.6,361.2C183.9,359.6 184.3,357.9 184.7,356.3C185.1,354.7 185.6,353.1 186.0,351.5C186.4,349.9 186.9,348.2 187.3,346.6C187.7,345.0 188.0,343.4 188.4,341.8C188.8,340.2 189.1,338.5 189.5,336.9C189.9,335.3 190.2,333.6 190.6,332.0C191.0,330.4 191.3,328.7 191.7,327.1C192.1,325.5 192.5,323.9 192.9,322.3C193.3,320.7 193.7,319.1 194.2,317.5C194.7,315.9 195.2,314.3 195.7,312.7C196.2,311.1 196.7,309.6 197.2,308.0C197.7,306.4 198.2,304.8 198.8,303.2C199.4,301.6 200.0,300.1 200.6,298.6C201.2,297.1 201.9,295.5 202.6,294.0C203.3,292.5 204.0,291.0 204.7,289.5C205.4,288.0 206.2,286.5 206.9,285.0C207.6,283.5 208.4,282.0 209.1,280.5C209.8,279.0 210.6,277.5 211.3,276.0C212.1,274.5 212.8,273.1 213.6,271.6C214.4,270.1 215.2,268.6 216.0,267.1C216.8,265.6 217.5,264.2 218.3,262.7C219.1,261.2 219.9,259.8 220.7,258.3C221.5,256.8 222.2,255.4 223.0,253.9C223.8,252.4 224.6,251.0 225.4,249.5C226.2,248.0 226.9,246.6 227.7,245.1C228.5,243.6 229.3,242.1 230.1,240.7C230.9,239.2 231.8,237.8 232.6,236.4C233.4,235.0 234.3,233.5 235.2,232.1C236.1,230.7 237.0,229.3 237.9,227.9C238.8,226.5 239.8,225.1 240.7,223.7C241.6,222.3 242.5,220.9 243.4,219.5C244.3,218.1 245.2,216.7 246.1,215.3C247.0,213.9 248.1,212.6 249.0,211.2C249.9,209.8 250.9,208.5 251.8,207.1C252.8,205.7 253.8,204.4 254.7,203.0C255.6,201.6 256.6,200.3 257.5,198.9C258.4,197.5 259.4,196.2 260.4,194.8C261.3,193.4 262.2,192.1 263.2,190.7C264.1,189.3 265.2,188.0 266.1,186.6C267.1,185.2 267.9,183.9 268.9,182.5C269.8,181.1 270.9,179.7 271.8,178.3C272.8,176.9 273.7,175.6 274.6,174.2C275.5,172.8 276.5,171.5 277.4,170.1C278.3,168.7 279.2,167.4 280.2,166.0C281.1,164.6 282.2,163.3 283.1,161.9C284.1,160.5 285.0,159.1 285.9,157.7C286.8,156.3 287.8,155.0 288.7,153.6C289.6,152.2 290.5,150.8 291.4,149.4C292.3,148.0 293.3,146.6 294.2,145.2C295.1,143.8 296.0,142.4 296.9,141.0C297.8,139.6 298.7,138.2 299.6,136.8C300.5,135.4 301.4,134.0 302.3,132.6C303.2,131.2 304.0,129.7 304.9,128.3C305.8,126.9 306.6,125.5 307.4,124.0C308.2,122.5 309.0,121.0 309.8,119.6C310.6,118.1 311.4,116.8 312.2,115.3C313.0,113.8 313.8,112.4 314.6,110.9C315.4,109.4 316.2,108.0 317.0,106.5C317.8,105.0 318.5,103.5 319.2,102.0C319.9,100.5 320.7,99.0 321.4,97.5C322.1,96.0 322.8,94.5 323.5,93.0C324.2,91.5 324.9,89.9 325.6,88.4C326.3,86.9 327.0,85.3 327.6,83.8C328.2,82.3 328.8,80.8 329.4,79.2C330.0,77.7 330.6,76.1 331.1,74.5C331.6,72.9 332.1,71.3 332.6,69.7C333.1,68.1 333.5,66.5 333.9,64.9C334.3,63.3 334.6,61.6 335.0,60.0C335.4,58.4 335.7,56.7 336.0,55.1C336.3,53.5 336.6,51.8 336.8,50.2C337.0,48.6 337.2,46.9 337.4,45.3C337.6,43.6 337.8,42.0 337.9,40.3C338.0,38.6 338.1,37.0 338.2,35.3C338.3,33.6 338.3,32.0 338.3,30.3C338.3,28.6 338.2,27.0 338.1,25.3C338.0,23.6 337.9,22.0 337.7,20.4C337.5,18.8 337.2,17.1 336.9,15.4C336.6,13.8 336.3,12.1 336.0,10.5C335.7,8.9 335.4,7.2 335.1,5.6C334.8,4.0 334.4,2.3 334.1,0.7C333.8,-0.9 333.5,-2.6 333.2,-4.2C332.9,-5.8 332.5,-7.5 332.2,-9.1C331.9,-10.7 331.4,-13.2 331.2,-14.0Z" fill="url(#gm)"/>
<path d="M3,2L137.2,2C136.5,4.1 135.5,9.9 133.2,14.4C130.9,18.9 127.6,24.6 123.6,28.9C119.6,33.2 114.7,37.2 109.1,40.1C103.5,43.0 97.4,44.9 89.9,46.5C82.4,48.1 71.2,48.8 64.2,49.8C57.2,50.8 52.5,50.6 48.2,52.2C43.9,53.8 40.8,56.3 38.5,59.4C36.2,62.5 35.7,66.0 34.5,70.6C33.3,75.1 32.8,81.6 31.3,86.7C29.8,91.8 28.2,96.9 25.7,101.1C23.1,105.2 19.8,108.8 16.0,111.6C12.2,114.4 5.2,116.9 3.0,118.0Z" fill="url(#gr)"/>
<circle cx="281.5" cy="745.5" r="36.8" fill="url(#gg)"/>
<rect x="0" y="0" width="3.2" height="810" fill="#fff"/>
<rect x="0" y="0" width="1440" height="2" fill="#bcd6ec"/>
<rect x="3" y="2" width="1437" height="1" fill="#687391" opacity=".6"/>
</svg>
<svg width="1440" height="810" viewBox="0 0 1440 810">
<g fill="none" stroke="#fff" stroke-linejoin="miter" stroke-linecap="butt">
<path d="M67.8,60L76.1,133.3L85.4,60M86.8,60L95.3,133.3L104.7,60" stroke-width="3.7" stroke-miterlimit="1"/>
<path d="M86,62L67.2,121.1M86.2,62L105,121.1" stroke-width="2.9"/>
<path d="M75.4,106.9H99.2" stroke-width="4.6"/>
</g>
<g fill="none" stroke="#162050" stroke-width=".5" opacity=".3">
<path d="M67.8,60L76.1,133.3L85.4,60M86.8,60L95.3,133.3L104.7,60"/><path d="M76,106.9H98.6"/>
</g></svg>
<span class="t" style="left:107.80px;top:87px;line-height:20px;font-size:17.3px;color:#fff;font-weight:700;transform:scaleX(0.9789);transform-origin:0.00px 50%;">NALITICA</span>
<span class="t" style="left:120.80px;top:110px;line-height:7px;font-size:7px;color:#fff;font-weight:700;transform:scaleX(0.8514);transform-origin:0.00px 50%;">PODER DE LOS DATOS</span>
<span class="t" style="left:34.09px;top:168px;line-height:33px;font-size:29.5px;color:#5ab4df;font-weight:700;transform:scaleX(0.9930);transform-origin:66.41px 50%;">Resumen</span>
<span class="t" style="left:24.24px;top:200px;line-height:33px;font-size:29.5px;color:#5ab4df;font-weight:700;transform:scaleX(1.0327);transform-origin:76.26px 50%;">General de</span>
<span class="t" style="left:29.18px;top:232px;line-height:33px;font-size:29.5px;color:#5ab4df;font-weight:700;transform:scaleX(0.9872);transform-origin:71.32px 50%;">la Gestión</span>
<span class="t" style="left:20.08px;top:265px;line-height:33px;font-size:29.5px;color:#5ab4df;font-weight:700;transform:scaleX(0.9947);transform-origin:80.42px 50%;">RRHH de la</span>
<span class="t" style="left:38.11px;top:297px;line-height:33px;font-size:29.5px;color:#5ab4df;font-weight:700;transform:scaleX(0.9881);transform-origin:62.39px 50%;">Empresa</span>
<span class="t" style="left:17.80px;top:352px;line-height:17px;font-size:16px;color:#fff;font-weight:700;transform:scaleX(0.8791);transform-origin:0.00px 50%;">Oficina</span>
<div class="sl" style="top:378.1px"><svg width="16" height="10" viewBox="0 0 16 10" style="left:136.8px;top:12.1px"><path d="M.8,.9L7.5,7.6L14.2,.9" fill="none" stroke="#333" stroke-width="1.1"/></svg></div>
<span class="t" style="left:22.00px;top:387px;line-height:17px;font-size:15px;color:#222;transform:scaleX(0.8997);transform-origin:0.00px 50%;">Todas</span>
<span class="t" style="left:17.80px;top:452px;line-height:17px;font-size:16px;color:#fff;font-weight:700;transform:scaleX(0.9489);transform-origin:0.00px 50%;">Departamento</span>
<div class="sl" style="top:478.1px"><svg width="16" height="10" viewBox="0 0 16 10" style="left:136.8px;top:12.1px"><path d="M.8,.9L7.5,7.6L14.2,.9" fill="none" stroke="#333" stroke-width="1.1"/></svg></div>
<span class="t" style="left:22.00px;top:487px;line-height:17px;font-size:15px;color:#222;transform:scaleX(0.8997);transform-origin:0.00px 50%;">Todas</span>
<span class="t" style="left:17.80px;top:537px;line-height:17px;font-size:16px;color:#fff;font-weight:700;transform:scaleX(0.9104);transform-origin:0.00px 50%;">Designacion</span>
<div class="sl" style="top:563.3px"><svg width="16" height="10" viewBox="0 0 16 10" style="left:136.8px;top:12.1px"><path d="M.8,.9L7.5,7.6L14.2,.9" fill="none" stroke="#333" stroke-width="1.1"/></svg></div>
<span class="t" style="left:22.00px;top:572px;line-height:17px;font-size:15px;color:#222;transform:scaleX(0.8997);transform-origin:0.00px 50%;">Todas</span>
<span class="t" style="left:17.80px;top:626px;line-height:17px;font-size:16px;color:#fff;font-weight:700;transform:scaleX(0.9412);transform-origin:0.00px 50%;">Estatus</span>
<div class="sl" style="top:651.8px"><svg width="16" height="10" viewBox="0 0 16 10" style="left:136.8px;top:12.1px"><path d="M.8,.9L7.5,7.6L14.2,.9" fill="none" stroke="#333" stroke-width="1.1"/></svg></div>
<span class="t" style="left:22.00px;top:660px;line-height:17px;font-size:15px;color:#222;transform:scaleX(0.8997);transform-origin:0.00px 50%;">Todas</span>
<div class="card" style="left:368px;top:40px;width:778px;height:109.6px"></div>
<div class="card" style="left:1158.6px;top:39.5px;width:260.6px;height:109.8px"></div>
<div class="dv" style="left:520.1px"></div>
<div class="dv" style="left:674.9px"></div>
<div class="dv" style="left:842.3px"></div>
<div class="dv" style="left:988.8px"></div>
<span class="t" style="left:398.98px;top:64px;line-height:41px;font-size:36.3px;color:#fff;font-weight:700;transform:scaleX(0.8498);transform-origin:45.42px 50%;-webkit-text-stroke:.35px #fff;">2,000</span>
<span class="t" style="left:384.33px;top:113px;line-height:20px;font-size:17.8px;color:#fff;transform:scaleX(0.9904);transform-origin:59.87px 50%;">Contrataciones</span>
<span class="t" style="left:557.68px;top:67px;line-height:41px;font-size:36.3px;color:#fff;font-weight:700;transform:scaleX(0.8234);transform-origin:45.42px 50%;-webkit-text-stroke:.35px #fff;">1,489</span>
<span class="t" style="left:574.22px;top:116px;line-height:20px;font-size:17.8px;color:#fff;transform:scaleX(0.9728);transform-origin:28.68px 50%;">Activos</span>
<span class="t" style="left:727.43px;top:67px;line-height:41px;font-size:36.3px;color:#fff;font-weight:700;transform:scaleX(0.8542);transform-origin:29.27px 50%;-webkit-text-stroke:.35px #fff;">511</span>
<span class="t" style="left:730.11px;top:116px;line-height:20px;font-size:17.8px;color:#fff;transform:scaleX(0.9453);transform-origin:28.19px 50%;">Retiros</span>
<span class="t" style="left:858.41px;top:66px;line-height:41px;font-size:36.3px;color:#fff;font-weight:700;transform:scaleX(0.8612);transform-origin:56.49px 50%;-webkit-text-stroke:.35px #fff;">25.6 %</span>
<span class="t" style="left:879.77px;top:114px;line-height:20px;font-size:17.8px;color:#fff;transform:scaleX(0.9678);transform-origin:35.13px 50%;">Rotacion</span>
<span class="t" style="left:1022.58px;top:67px;line-height:41px;font-size:36.3px;color:#fff;font-weight:700;transform:scaleX(0.8564);transform-origin:45.42px 50%;-webkit-text-stroke:.35px #fff;">46.63</span>
<span class="t" style="left:1000.21px;top:116px;line-height:20px;font-size:17.8px;color:#fff;transform:scaleX(1.0112);transform-origin:68.29px 50%;">Prom Antiguedad</span>
<div class="di" style="top:63.8px"><svg width="11" height="11" viewBox="0 0 11 11" style="left:95.6px;top:7.4px"><rect x=".9" y="1" width="8.9" height="9.3" rx="1.7" fill="none" stroke="#fff" stroke-width="1.15" opacity=".9"/><path d="M.9,3.5H9.8" stroke="#fff" stroke-width="1.5" opacity=".9"/><path d="M2.7,5.7h5.6M2.7,7.7h3.6" stroke="#fff" stroke-width="1.1" stroke-dasharray="1.2 .9" opacity=".85"/></svg></div>
<div class="di" style="top:103.3px"><svg width="11" height="11" viewBox="0 0 11 11" style="left:95.6px;top:7.9px"><rect x=".9" y="1" width="8.9" height="9.3" rx="1.7" fill="none" stroke="#fff" stroke-width="1.15" opacity=".9"/><path d="M.9,3.5H9.8" stroke="#fff" stroke-width="1.5" opacity=".9"/><path d="M2.7,5.7h5.6M2.7,7.7h3.6" stroke="#fff" stroke-width="1.1" stroke-dasharray="1.2 .9" opacity=".85"/></svg></div>
<span class="t" style="left:1184.90px;top:72px;line-height:15px;font-size:12.8px;color:rgba(255,255,255,.92);transform:scaleX(1.0497);transform-origin:0.00px 50%;">1/1/2018</span>
<span class="t" style="left:1184.90px;top:112px;line-height:15px;font-size:12.8px;color:rgba(255,255,255,.92);transform:scaleX(1.0521);transform-origin:0.00px 50%;">12/31/2019</span>
<svg width="1440" height="810" viewBox="0 0 1440 810"><defs><clipPath id="c1"><rect x="320" y="225" width="475" height="164.6"/></clipPath></defs><path d="M323.4,238.8H791.5" stroke="#a1a6be" stroke-width="1.8" stroke-dasharray="1.4 5.4" fill="none"/><path d="M323.4,313.6H791.5" stroke="#a1a6be" stroke-width="1.8" stroke-dasharray="1.4 5.4" fill="none"/><path d="M323.4,389.2H791.5" stroke="#a1a6be" stroke-width="1.8" stroke-dasharray="1.4 5.4" fill="none"/><path d="M320.3,390.5V433M729.2,390.5V436" stroke="#a1a6be" stroke-width="1.8" stroke-dasharray="1.4 5.4" fill="none" style="stroke-dasharray:1.6 5.25"/><g clip-path="url(#c1)"><polygon points="337.0,390 337.0,274.9 371.1,296.0 405.2,286.2 439.3,286.2 473.4,289.9 507.5,285.4 541.5,269.6 575.6,274.9 609.7,274.9 643.8,269.6 677.9,293.7 712.0,277.9 746.1,283.2 780.2,282.4 780.2,390" fill="#4a80c3"/><polygon points="337.0,390 337.0,386.9 371.1,386.9 405.2,382.4 439.3,380.2 473.4,377.9 507.5,375.7 541.5,374.9 575.6,376.4 609.7,369.6 643.8,356.9 677.9,344.8 712.0,338.1 746.1,320.0 780.2,292.9 780.2,390" fill="#355cb3"/><polyline points="337.0,274.9 371.1,296.0 405.2,286.2 439.3,286.2 473.4,289.9 507.5,285.4 541.5,269.6 575.6,274.9 609.7,274.9 643.8,269.6 677.9,293.7 712.0,277.9 746.1,283.2 780.2,282.4" fill="none" stroke="#1e90ff" stroke-width="3.5" stroke-linejoin="round"/><polyline points="337.0,386.9 371.1,386.9 405.2,382.4 439.3,380.2 473.4,377.9 507.5,375.7 541.5,374.9 575.6,376.4 609.7,369.6 643.8,356.9 677.9,344.8 712.0,338.1 746.1,320.0 780.2,292.9" fill="none" stroke="#101f9a" stroke-width="3.5" stroke-linejoin="round"/><circle cx="337.0" cy="274.9" r="6.2" fill="#00f5d4"/><circle cx="337.0" cy="386.9" r="6.2" fill="#00f5d4"/><circle cx="371.1" cy="296.0" r="6.2" fill="#b8b0f2"/><circle cx="371.1" cy="386.9" r="6.2" fill="#b8b0f2"/><circle cx="405.2" cy="286.2" r="6.2" fill="#5ce1f2"/><circle cx="405.2" cy="382.4" r="6.2" fill="#5ce1f2"/><circle cx="439.3" cy="286.2" r="6.2" fill="#7fd9f7"/><circle cx="439.3" cy="380.2" r="6.2" fill="#7fd9f7"/><circle cx="473.4" cy="289.9" r="6.2" fill="#a6c8fd"/><circle cx="473.4" cy="377.9" r="6.2" fill="#a6c8fd"/><circle cx="507.5" cy="285.4" r="6.2" fill="#7fd9f7"/><circle cx="507.5" cy="375.7" r="6.2" fill="#7fd9f7"/><circle cx="541.5" cy="269.6" r="6.2" fill="#1ff2da"/><circle cx="541.5" cy="374.9" r="6.2" fill="#1ff2da"/><circle cx="575.6" cy="274.9" r="6.2" fill="#74dcf3"/><circle cx="575.6" cy="376.4" r="6.2" fill="#74dcf3"/><circle cx="609.7" cy="274.9" r="6.2" fill="#3be9dc"/><circle cx="609.7" cy="369.6" r="6.2" fill="#3be9dc"/><circle cx="643.8" cy="269.6" r="6.2" fill="#a8c2fb"/><circle cx="643.8" cy="356.9" r="6.2" fill="#a8c2fb"/><circle cx="677.9" cy="293.7" r="6.2" fill="#e868e2"/><circle cx="677.9" cy="344.8" r="6.2" fill="#e868e2"/><circle cx="712.0" cy="277.9" r="6.2" fill="#c2a4f2"/><circle cx="712.0" cy="338.1" r="6.2" fill="#c2a4f2"/><circle cx="746.1" cy="283.2" r="6.2" fill="#b9aaf3"/><circle cx="746.1" cy="320.0" r="6.2" fill="#b9aaf3"/><circle cx="780.2" cy="282.4" r="6.2" fill="#c9a0ec"/><circle cx="780.2" cy="292.9" r="6.2" fill="#c9a0ec"/></g><path d="M343.8,313.6H775" stroke="#a1a6be" stroke-width="1.8" stroke-dasharray="1.4 5.4" fill="none" opacity=".5"/></svg>
<span class="t" style="left:290.50px;top:201px;line-height:20px;font-size:18px;color:#fff;transform:scaleX(1.0452);transform-origin:0.00px 50%;-webkit-text-stroke:.5px #fff;">Contrataciones y Retiros por Año y Mes</span>
<span class="t" style="left:290.42px;top:231px;line-height:15px;font-size:13px;color:#fff;">200</span>
<span class="t" style="left:290.42px;top:306px;line-height:15px;font-size:13px;color:#fff;">100</span>
<span class="t" style="left:304.89px;top:382px;line-height:15px;font-size:13px;color:#fff;">0</span>
<span class="t" style="left:326.16px;top:395px;line-height:15px;font-size:13px;color:#fff;">ene</span>
<span class="t" style="left:362.06px;top:395px;line-height:15px;font-size:13px;color:#fff;">feb</span>
<span class="t" style="left:393.98px;top:395px;line-height:15px;font-size:13px;color:#fff;">mar</span>
<span class="t" style="left:429.88px;top:395px;line-height:15px;font-size:13px;color:#fff;">abr</span>
<span class="t" style="left:461.07px;top:395px;line-height:15px;font-size:13px;color:#fff;">may</span>
<span class="t" style="left:498.94px;top:395px;line-height:15px;font-size:13px;color:#fff;">jun</span>
<span class="t" style="left:535.20px;top:395px;line-height:15px;font-size:13px;color:#fff;">jul</span>
<span class="t" style="left:564.79px;top:395px;line-height:15px;font-size:13px;color:#fff;">ago</span>
<span class="t" style="left:599.24px;top:395px;line-height:15px;font-size:13px;color:#fff;">sep</span>
<span class="t" style="left:635.13px;top:395px;line-height:15px;font-size:13px;color:#fff;">oct</span>
<span class="t" style="left:667.42px;top:395px;line-height:15px;font-size:13px;color:#fff;">nov</span>
<span class="t" style="left:703.69px;top:395px;line-height:15px;font-size:13px;color:#fff;">dic</span>
<span class="t" style="left:735.24px;top:395px;line-height:15px;font-size:13px;color:#fff;">ene</span>
<span class="t" style="left:771.14px;top:395px;line-height:15px;font-size:13px;color:#fff;">feb</span>
<span class="t" style="left:509.94px;top:414px;line-height:15px;font-size:13px;color:#fff;">2018</span>
<span class="t" style="left:748.64px;top:414px;line-height:15px;font-size:13px;color:#fff;">2019</span>
<span class="t" style="left:326.16px;top:253px;line-height:15px;font-size:13px;color:#fff;">152</span>
<span class="t" style="left:360.25px;top:305px;line-height:15px;font-size:13px;color:#fff;">124</span>
<span class="t" style="left:394.34px;top:264px;line-height:15px;font-size:13px;color:#fff;">137</span>
<span class="t" style="left:428.43px;top:264px;line-height:15px;font-size:13px;color:#fff;">137</span>
<span class="t" style="left:462.52px;top:299px;line-height:15px;font-size:13px;color:#fff;">132</span>
<span class="t" style="left:496.61px;top:263px;line-height:15px;font-size:13px;color:#fff;">138</span>
<span class="t" style="left:530.70px;top:248px;line-height:15px;font-size:13px;color:#fff;">159</span>
<span class="t" style="left:564.79px;top:284px;line-height:15px;font-size:13px;color:#fff;">152</span>
<span class="t" style="left:598.88px;top:284px;line-height:15px;font-size:13px;color:#fff;">152</span>
<span class="t" style="left:632.97px;top:248px;line-height:15px;font-size:13px;color:#fff;">159</span>
<span class="t" style="left:667.06px;top:303px;line-height:15px;font-size:13px;color:#fff;">127</span>
<span class="t" style="left:701.15px;top:256px;line-height:15px;font-size:13px;color:#fff;">148</span>
<span class="t" style="left:735.24px;top:292px;line-height:15px;font-size:13px;color:#fff;">141</span>
<span class="t" style="left:769.33px;top:260px;line-height:15px;font-size:13px;color:#fff;">142</span>
<span class="t" style="left:333.39px;top:365px;line-height:15px;font-size:13px;color:#fff;">3</span>
<span class="t" style="left:367.48px;top:365px;line-height:15px;font-size:13px;color:#fff;">3</span>
<span class="t" style="left:401.57px;top:360px;line-height:15px;font-size:13px;color:#fff;">9</span>
<span class="t" style="left:432.04px;top:358px;line-height:15px;font-size:13px;color:#fff;">12</span>
<span class="t" style="left:466.13px;top:356px;line-height:15px;font-size:13px;color:#fff;">15</span>
<span class="t" style="left:500.22px;top:354px;line-height:15px;font-size:13px;color:#fff;">18</span>
<span class="t" style="left:534.31px;top:353px;line-height:15px;font-size:13px;color:#fff;">19</span>
<span class="t" style="left:568.40px;top:354px;line-height:15px;font-size:13px;color:#fff;">17</span>
<span class="t" style="left:602.49px;top:348px;line-height:15px;font-size:13px;color:#fff;">26</span>
<span class="t" style="left:636.58px;top:335px;line-height:15px;font-size:13px;color:#fff;">43</span>
<span class="t" style="left:670.67px;top:323px;line-height:15px;font-size:13px;color:#fff;">59</span>
<span class="t" style="left:704.76px;top:316px;line-height:15px;font-size:13px;color:#fff;">68</span>
<span class="t" style="left:738.85px;top:329px;line-height:15px;font-size:13px;color:#fff;">92</span>
<svg width="1440" height="810" viewBox="0 0 1440 810"><path d="M869.5,264.2H1417.5" stroke="#a1a6be" stroke-width="1.8" stroke-dasharray="1.4 5.4" fill="none"/><path d="M869.5,326.2H1417.5" stroke="#a1a6be" stroke-width="1.8" stroke-dasharray="1.4 5.4" fill="none"/><path d="M869.5,388.2H1417.5" stroke="#a1a6be" stroke-width="1.8" stroke-dasharray="1.4 5.4" fill="none"/><path d="M879.9,389.5V433M1330.4,389.5V433M1405.7,389.5V433" stroke="#a1a6be" stroke-width="1.8" stroke-dasharray="1.4 5.4" fill="none" style="stroke-dasharray:1.6 5.25"/><rect x="883.9" y="363.4" width="29.8" height="24.8" fill="#00fadb"/><rect x="921.4" y="369.6" width="29.8" height="18.6" fill="#b7b3f7"/><rect x="959.0" y="347.2" width="29.8" height="41.0" fill="#55e5ee"/><rect x="996.5" y="344.8" width="29.8" height="43.4" fill="#6fdff3"/><rect x="1034.1" y="342.3" width="29.8" height="45.9" fill="#9ccffe"/><rect x="1071.6" y="341.0" width="29.8" height="47.2" fill="#79dff5"/><rect x="1109.1" y="347.2" width="29.8" height="41.0" fill="#14f5dc"/><rect x="1146.7" y="354.7" width="29.8" height="33.5" fill="#78dff5"/><rect x="1184.2" y="343.5" width="29.8" height="44.7" fill="#45ebe6"/><rect x="1221.8" y="321.2" width="29.8" height="67.0" fill="#a8c4ff"/><rect x="1259.3" y="301.3" width="29.8" height="86.9" fill="#e768e6"/><rect x="1296.8" y="297.6" width="29.8" height="90.6" fill="#c1a6f5"/><rect x="1334.4" y="274.0" width="29.8" height="114.2" fill="#b7aef7"/><rect x="1371.9" y="240.5" width="29.8" height="147.7" fill="#c79ff2"/></svg>
<span class="t" style="left:828.00px;top:180px;line-height:20px;font-size:18px;color:#fff;transform:scaleX(1.0308);transform-origin:0.00px 50%;-webkit-text-stroke:.5px #fff;">Rotacion por Año y Mes</span>
<span class="t" style="left:827.16px;top:257px;line-height:15px;font-size:13px;color:#fff;">10 %</span>
<span class="t" style="left:834.41px;top:319px;line-height:15px;font-size:13px;color:#fff;">5 %</span>
<span class="t" style="left:834.41px;top:381px;line-height:15px;font-size:13px;color:#fff;">0 %</span>
<span class="t" style="left:887.96px;top:394px;line-height:15px;font-size:13px;color:#fff;">ene</span>
<span class="t" style="left:882.18px;top:342px;line-height:15px;font-size:13px;color:#fff;">2.0 %</span>
<span class="t" style="left:927.30px;top:394px;line-height:15px;font-size:13px;color:#fff;">feb</span>
<span class="t" style="left:919.72px;top:349px;line-height:15px;font-size:13px;color:#fff;">1.5 %</span>
<span class="t" style="left:962.68px;top:394px;line-height:15px;font-size:13px;color:#fff;">mar</span>
<span class="t" style="left:957.26px;top:326px;line-height:15px;font-size:13px;color:#fff;">3.3 %</span>
<span class="t" style="left:1002.03px;top:394px;line-height:15px;font-size:13px;color:#fff;">abr</span>
<span class="t" style="left:994.80px;top:324px;line-height:15px;font-size:13px;color:#fff;">3.5 %</span>
<span class="t" style="left:1036.67px;top:394px;line-height:15px;font-size:13px;color:#fff;">may</span>
<span class="t" style="left:1032.34px;top:321px;line-height:15px;font-size:13px;color:#fff;">3.7 %</span>
<span class="t" style="left:1077.98px;top:394px;line-height:15px;font-size:13px;color:#fff;">jun</span>
<span class="t" style="left:1069.88px;top:320px;line-height:15px;font-size:13px;color:#fff;">3.8 %</span>
<span class="t" style="left:1117.70px;top:394px;line-height:15px;font-size:13px;color:#fff;">jul</span>
<span class="t" style="left:1107.42px;top:326px;line-height:15px;font-size:13px;color:#fff;">3.3 %</span>
<span class="t" style="left:1150.74px;top:394px;line-height:15px;font-size:13px;color:#fff;">ago</span>
<span class="t" style="left:1144.96px;top:334px;line-height:15px;font-size:13px;color:#fff;">2.7 %</span>
<span class="t" style="left:1188.64px;top:394px;line-height:15px;font-size:13px;color:#fff;">sep</span>
<span class="t" style="left:1182.50px;top:323px;line-height:15px;font-size:13px;color:#fff;">3.6 %</span>
<span class="t" style="left:1227.98px;top:394px;line-height:15px;font-size:13px;color:#fff;">oct</span>
<span class="t" style="left:1220.04px;top:300px;line-height:15px;font-size:13px;color:#fff;">5.4 %</span>
<span class="t" style="left:1263.72px;top:394px;line-height:15px;font-size:13px;color:#fff;">nov</span>
<span class="t" style="left:1257.58px;top:280px;line-height:15px;font-size:13px;color:#fff;">7.0 %</span>
<span class="t" style="left:1303.44px;top:394px;line-height:15px;font-size:13px;color:#fff;">dic</span>
<span class="t" style="left:1295.12px;top:277px;line-height:15px;font-size:13px;color:#fff;">7.3 %</span>
<span class="t" style="left:1338.44px;top:394px;line-height:15px;font-size:13px;color:#fff;">ene</span>
<span class="t" style="left:1332.66px;top:253px;line-height:15px;font-size:13px;color:#fff;">9.2 %</span>
<span class="t" style="left:1377.79px;top:394px;line-height:15px;font-size:13px;color:#fff;">feb</span>
<span class="t" style="left:1367.06px;top:220px;line-height:15px;font-size:13px;color:#fff;">11.9 %</span>
<span class="t" style="left:1090.54px;top:413px;line-height:15px;font-size:13px;color:#fff;">2018</span>
<span class="t" style="left:1353.54px;top:413px;line-height:15px;font-size:13px;color:#fff;">2019</span>
<svg width="1440" height="810" viewBox="0 0 1440 810"><path d="M490,523V696" stroke="#a1a6be" stroke-width="1.8" stroke-dasharray="1.4 5.4" fill="none" style="stroke-width:1.4;stroke-dasharray:1.8 5.05"/><path d="M602.6,523V696" stroke="#a1a6be" stroke-width="1.8" stroke-dasharray="1.4 5.4" fill="none" style="stroke-width:1.4;stroke-dasharray:1.8 5.05"/><path d="M715.3,523V696" stroke="#a1a6be" stroke-width="1.8" stroke-dasharray="1.4 5.4" fill="none" style="stroke-width:1.4;stroke-dasharray:1.8 5.05"/><rect x="489.9" y="530.1" width="284.5" height="17.9" fill="#00fcdc"/><rect x="489.9" y="556.5" width="273.8" height="17.9" fill="#7bdff5"/><rect x="489.9" y="582.9" width="263.9" height="17.9" fill="#84dbf8"/><rect x="489.9" y="609.2" width="263.1" height="17.9" fill="#27f2e0"/><rect x="489.9" y="635.6" width="263.0" height="17.9" fill="#e668e5"/><rect x="489.9" y="662.0" width="261.7" height="17.9" fill="#a9c4fe"/><rect x="824.6" y="519.4" width="8.8" height="173.4" fill="#a9adc1"/><rect x="824.6" y="519.4" width="8.8" height="85.8" fill="#858799"/><path d="M825,605.2V519.8H833V605.2Z" fill="none" stroke="#fff" stroke-width=".9"/></svg>
<span class="t" style="left:360.70px;top:484px;line-height:20px;font-size:18px;color:#fff;transform:scaleX(1.0454);transform-origin:0.00px 50%;-webkit-text-stroke:.5px #fff;">Promedio de Antiguedad por Departamento</span>
<span class="t" style="left:429.75px;top:533px;line-height:15px;font-size:13px;color:#fff;transform:scaleX(0.9287);transform-origin:49.85px 50%;">Services</span>
<span class="t" style="left:783.60px;top:534px;line-height:15px;font-size:13px;color:#fff;transform:scaleX(0.9683);transform-origin:0.00px 50%;">50.56</span>
<span class="t" style="left:374.82px;top:559px;line-height:15px;font-size:13px;color:#fff;transform:scaleX(0.9620);transform-origin:104.78px 50%;">Research and D...</span>
<span class="t" style="left:772.85px;top:560px;line-height:15px;font-size:13px;color:#fff;transform:scaleX(0.9683);transform-origin:0.00px 50%;">48.65</span>
<span class="t" style="left:371.93px;top:586px;line-height:15px;font-size:13px;color:#fff;transform:scaleX(0.9789);transform-origin:107.67px 50%;">Human Resources</span>
<span class="t" style="left:763.01px;top:587px;line-height:15px;font-size:13px;color:#fff;transform:scaleX(0.9683);transform-origin:0.00px 50%;">46.90</span>
<span class="t" style="left:380.61px;top:612px;line-height:15px;font-size:13px;color:#fff;transform:scaleX(1.0203);transform-origin:99.00px 50%;">Product Manag...</span>
<span class="t" style="left:762.22px;top:613px;line-height:15px;font-size:13px;color:#fff;transform:scaleX(0.9683);transform-origin:0.00px 50%;">46.76</span>
<span class="t" style="left:371.93px;top:638px;line-height:15px;font-size:13px;color:#fff;transform:scaleX(0.9705);transform-origin:107.67px 50%;">Business Develo...</span>
<span class="t" style="left:762.11px;top:639px;line-height:15px;font-size:13px;color:#fff;transform:scaleX(0.9683);transform-origin:0.00px 50%;">46.74</span>
<span class="t" style="left:415.28px;top:665px;line-height:15px;font-size:13px;color:#fff;transform:scaleX(1.0417);transform-origin:64.32px 50%;">Accounting</span>
<span class="t" style="left:760.76px;top:666px;line-height:15px;font-size:13px;color:#fff;transform:scaleX(0.9683);transform-origin:0.00px 50%;">46.50</span>
<span class="t" style="left:486.39px;top:698px;line-height:15px;font-size:13px;color:#fff;">0</span>
<span class="t" style="left:595.37px;top:698px;line-height:15px;font-size:13px;color:#fff;">20</span>
<span class="t" style="left:708.17px;top:698px;line-height:15px;font-size:13px;color:#fff;">40</span>
<div style="position:absolute;left:880.2px;top:481.8px;width:541.8px;height:263.2px;background:#fff"></div>
<div style="position:absolute;left:887.8px;top:487.4px;width:517.3px;height:32.6px;background:#019697"></div>
<svg width="1440" height="810" viewBox="0 0 1440 810"><g stroke="#8c8c8c" stroke-width="1"><path d="M888,543.3H1405.1"/><path d="M888,566.5H1405.1"/><path d="M888,590.1H1405.1"/><path d="M888,614.3H1405.1"/><path d="M888,637.1H1405.1"/><path d="M888,660.6H1405.1"/><path d="M888,684.4H1405.1"/><path d="M888,708.3H1405.1"/><path d="M888.3,520V728.8"/><path d="M1004.2,520V728.8"/><path d="M1172.4,520V728.8"/><path d="M1326.5,520V728.8"/></g><g stroke="#4d8f92" stroke-width="1"><path d="M1004.2,487.4V520"/><path d="M1172.4,487.4V520"/><path d="M1326.5,487.4V520"/></g><path d="M1178.4,515.5L1184,509.9L1189.6,515.5Z" fill="#fff"/><rect x="888.5" y="730.4" width="402.5" height="7.2" rx="3.6" fill="#b5b5b5"/><rect x="1406.6" y="487.6" width="7.6" height="11" rx="3.8" fill="#9b9b9b"/></svg>
<span class="t" style="left:893.30px;top:491px;line-height:17px;font-size:15px;color:#fff;transform:scaleX(0.9674);transform-origin:0.00px 50%;">Oficina</span>
<span class="t" style="left:1010.40px;top:491px;line-height:17px;font-size:15px;color:#fff;transform:scaleX(0.9916);transform-origin:0.00px 50%;">Nombre del Empleado</span>
<span class="t" style="left:1178.75px;top:491px;line-height:17px;font-size:15px;color:#fff;transform:scaleX(0.9723);transform-origin:0.00px 50%;">Designacion</span>
<div style="position:absolute;left:1327px;top:488px;width:78.1px;height:32px;overflow:hidden">
<span class="t" style="left:5.90px;top:3px;line-height:17px;font-size:15px;color:#fff;transform:scaleX(1.0343);transform-origin:0.00px 50%;">Antiguedad</span>
</div>
<div style="position:absolute;left:880px;top:520px;width:525.1px;height:208.8px;overflow:hidden">
<span class="t" style="left:13.30px;top:4px;line-height:17px;font-size:15px;color:#333;transform:scaleX(0.9838);transform-origin:0.00px 50%;">Orlando</span>
<span class="t" style="left:130.40px;top:4px;line-height:17px;font-size:15px;color:#333;transform:scaleX(0.9867);transform-origin:0.00px 50%;">Antoni Gore</span>
<span class="t" style="left:298.75px;top:4px;line-height:17px;font-size:15px;color:#333;">Account Coordinator</span>
<span class="t" style="left:523.20px;top:4px;line-height:17px;font-size:15px;color:#333;">2.00</span>
<span class="t" style="left:13.30px;top:27px;line-height:17px;font-size:15px;color:#333;transform:scaleX(0.9838);transform-origin:0.00px 50%;">Orlando</span>
<span class="t" style="left:130.40px;top:27px;line-height:17px;font-size:15px;color:#333;transform:scaleX(0.9846);transform-origin:0.00px 50%;">Ashleigh Duggen</span>
<span class="t" style="left:298.75px;top:27px;line-height:17px;font-size:15px;color:#333;">Account Coordinator</span>
<span class="t" style="left:515.30px;top:27px;line-height:17px;font-size:15px;color:#333;">65.00</span>
<span class="t" style="left:13.30px;top:50px;line-height:17px;font-size:15px;color:#333;transform:scaleX(0.9761);transform-origin:0.00px 50%;">New York</span>
<span class="t" style="left:130.40px;top:50px;line-height:17px;font-size:15px;color:#333;transform:scaleX(0.9643);transform-origin:0.00px 50%;">Burnard Plampeyn</span>
<span class="t" style="left:298.75px;top:50px;line-height:17px;font-size:15px;color:#333;">Account Coordinator</span>
<span class="t" style="left:515.30px;top:50px;line-height:17px;font-size:15px;color:#333;">64.00</span>
<span class="t" style="left:13.30px;top:75px;line-height:17px;font-size:15px;color:#333;transform:scaleX(0.9761);transform-origin:0.00px 50%;">New York</span>
<span class="t" style="left:130.40px;top:75px;line-height:17px;font-size:15px;color:#333;transform:scaleX(0.9558);transform-origin:0.00px 50%;">Chan Rothschild</span>
<span class="t" style="left:298.75px;top:75px;line-height:17px;font-size:15px;color:#333;">Account Coordinator</span>
<span class="t" style="left:523.20px;top:75px;line-height:17px;font-size:15px;color:#333;">4.00</span>
<span class="t" style="left:13.30px;top:98px;line-height:17px;font-size:15px;color:#333;transform:scaleX(0.9862);transform-origin:0.00px 50%;">Baltimore</span>
<span class="t" style="left:130.40px;top:98px;line-height:17px;font-size:15px;color:#333;transform:scaleX(0.9561);transform-origin:0.00px 50%;">Chickie Gatward</span>
<span class="t" style="left:298.75px;top:98px;line-height:17px;font-size:15px;color:#333;">Account Coordinator</span>
<span class="t" style="left:515.30px;top:98px;line-height:17px;font-size:15px;color:#333;">57.00</span>
<span class="t" style="left:13.30px;top:121px;line-height:17px;font-size:15px;color:#333;transform:scaleX(0.9773);transform-origin:0.00px 50%;">Washington DC</span>
<span class="t" style="left:130.40px;top:121px;line-height:17px;font-size:15px;color:#333;transform:scaleX(0.9554);transform-origin:0.00px 50%;">Dew Seaborne</span>
<span class="t" style="left:298.75px;top:121px;line-height:17px;font-size:15px;color:#333;">Account Coordinator</span>
<span class="t" style="left:515.30px;top:121px;line-height:17px;font-size:15px;color:#333;">60.00</span>
<span class="t" style="left:13.30px;top:145px;line-height:17px;font-size:15px;color:#333;transform:scaleX(0.9862);transform-origin:0.00px 50%;">Baltimore</span>
<span class="t" style="left:130.40px;top:145px;line-height:17px;font-size:15px;color:#333;transform:scaleX(0.9254);transform-origin:0.00px 50%;">Erv Lowre</span>
<span class="t" style="left:298.75px;top:145px;line-height:17px;font-size:15px;color:#333;">Account Coordinator</span>
<span class="t" style="left:515.30px;top:145px;line-height:17px;font-size:15px;color:#333;">61.00</span>
<span class="t" style="left:13.30px;top:169px;line-height:17px;font-size:15px;color:#333;transform:scaleX(0.9761);transform-origin:0.00px 50%;">New York</span>
<span class="t" style="left:130.40px;top:169px;line-height:17px;font-size:15px;color:#333;transform:scaleX(0.9331);transform-origin:0.00px 50%;">Jania FitzAlan</span>
<span class="t" style="left:298.75px;top:169px;line-height:17px;font-size:15px;color:#333;">Account Coordinator</span>
<span class="t" style="left:515.30px;top:169px;line-height:17px;font-size:15px;color:#333;">67.00</span>
<span class="t" style="left:13.30px;top:192px;line-height:17px;font-size:15px;color:#333;transform:scaleX(0.9681);transform-origin:0.00px 50%;">Boston</span>
<span class="t" style="left:130.40px;top:192px;line-height:17px;font-size:15px;color:#333;transform:scaleX(0.9549);transform-origin:0.00px 50%;">Kendal Bonds</span>
<span class="t" style="left:298.75px;top:192px;line-height:17px;font-size:15px;color:#333;">Account Coordinator</span>
<span class="t" style="left:523.20px;top:192px;line-height:17px;font-size:15px;color:#333;">4.00</span>
</div>
</body></html>
